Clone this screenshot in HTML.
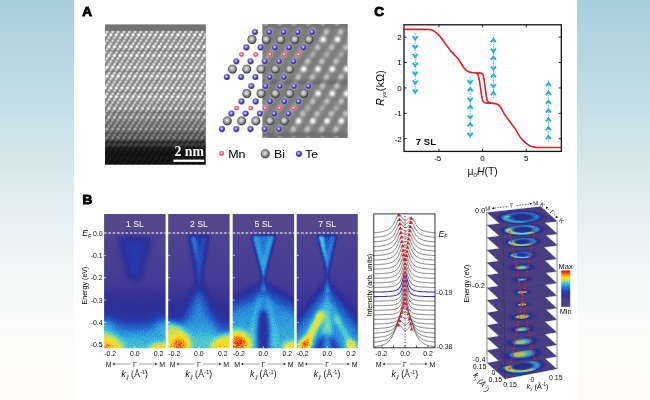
<!DOCTYPE html><html><head><meta charset="utf-8"><title>Figure</title>
<style>html,body{margin:0;padding:0;background:#fff}body{width:650px;height:400px;overflow:hidden}svg{display:block}text{font-family:"Liberation Sans",sans-serif}</style></head><body>
<svg width="650" height="400" viewBox="0 0 650 400">
<defs>
<linearGradient id="bg" x1="0" y1="0" x2="0" y2="1"><stop offset="0" stop-color="#a7cfdb"/><stop offset="0.25" stop-color="#c2dde5"/><stop offset="0.5" stop-color="#e1edf0"/><stop offset="0.65" stop-color="#eff5f5"/><stop offset="0.8" stop-color="#fafbfa"/><stop offset="1" stop-color="#fdfbf8"/></linearGradient>
<filter id="jetn" x="0" y="0" width="1" height="1" color-interpolation-filters="sRGB"><feTurbulence type="fractalNoise" baseFrequency="1.1" numOctaves="2" seed="4" result="n"/><feColorMatrix in="n" type="matrix" values="1 0 0 0 0 1 0 0 0 0 1 0 0 0 0 0 0 0 0 1" result="ng"/><feComposite in="SourceGraphic" in2="ng" operator="arithmetic" k1="0.26" k2="0.87" k3="0.03" k4="-0.015" result="s"/><feComponentTransfer in="s"><feFuncR type="table" tableValues="0.35 0.34 0.32 0.3 0.28 0.26 0.23 0.21 0.18 0.17 0.16 0.15 0.15 0.15 0.14 0.14 0.15 0.16 0.17 0.18 0.21 0.24 0.27 0.34 0.42 0.51 0.6 0.7 0.8 0.89 0.92 0.96 1 1 1 1 0.98 0.96 0.94 0.88 0.82"/><feFuncG type="table" tableValues="0.29 0.28 0.27 0.26 0.24 0.23 0.21 0.2 0.18 0.2 0.21 0.23 0.27 0.31 0.36 0.4 0.45 0.51 0.57 0.62 0.67 0.72 0.77 0.8 0.82 0.85 0.87 0.88 0.89 0.9 0.88 0.86 0.85 0.76 0.67 0.58 0.47 0.34 0.22 0.14 0.06"/><feFuncB type="table" tableValues="0.55 0.56 0.56 0.57 0.58 0.59 0.59 0.59 0.59 0.62 0.65 0.68 0.71 0.74 0.76 0.79 0.82 0.84 0.85 0.87 0.87 0.86 0.85 0.79 0.71 0.62 0.53 0.43 0.33 0.24 0.19 0.14 0.09 0.08 0.07 0.06 0.06 0.06 0.06 0.06 0.06"/></feComponentTransfer></filter>
<filter id="jet" x="0" y="0" width="1" height="1" color-interpolation-filters="sRGB"><feComponentTransfer><feFuncR type="table" tableValues="0.35 0.34 0.32 0.3 0.28 0.26 0.23 0.21 0.18 0.17 0.16 0.15 0.15 0.15 0.14 0.14 0.15 0.16 0.17 0.18 0.21 0.24 0.27 0.34 0.42 0.51 0.6 0.7 0.8 0.89 0.92 0.96 1 1 1 1 0.98 0.96 0.94 0.88 0.82"/><feFuncG type="table" tableValues="0.29 0.28 0.27 0.26 0.24 0.23 0.21 0.2 0.18 0.2 0.21 0.23 0.27 0.31 0.36 0.4 0.45 0.51 0.57 0.62 0.67 0.72 0.77 0.8 0.82 0.85 0.87 0.88 0.89 0.9 0.88 0.86 0.85 0.76 0.67 0.58 0.47 0.34 0.22 0.14 0.06"/><feFuncB type="table" tableValues="0.55 0.56 0.56 0.57 0.58 0.59 0.59 0.59 0.59 0.62 0.65 0.68 0.71 0.74 0.76 0.79 0.82 0.84 0.85 0.87 0.87 0.86 0.85 0.79 0.71 0.62 0.53 0.43 0.33 0.24 0.19 0.14 0.09 0.08 0.07 0.06 0.06 0.06 0.06 0.06 0.06"/></feComponentTransfer></filter>
<filter id="b05" x="-50%" y="-50%" width="200%" height="200%" color-interpolation-filters="sRGB"><feGaussianBlur stdDeviation="0.5"/></filter>
<filter id="b07" x="-50%" y="-50%" width="200%" height="200%" color-interpolation-filters="sRGB"><feGaussianBlur stdDeviation="0.7"/></filter>
<filter id="b1" x="-50%" y="-50%" width="200%" height="200%" color-interpolation-filters="sRGB"><feGaussianBlur stdDeviation="1"/></filter>
<filter id="b15" x="-50%" y="-50%" width="200%" height="200%" color-interpolation-filters="sRGB"><feGaussianBlur stdDeviation="1.5"/></filter>
<filter id="b2" x="-50%" y="-50%" width="200%" height="200%" color-interpolation-filters="sRGB"><feGaussianBlur stdDeviation="2"/></filter>
<filter id="b25" x="-50%" y="-50%" width="200%" height="200%" color-interpolation-filters="sRGB"><feGaussianBlur stdDeviation="2.5"/></filter>
<filter id="b3" x="-50%" y="-50%" width="200%" height="200%" color-interpolation-filters="sRGB"><feGaussianBlur stdDeviation="3"/></filter>
<filter id="b4" x="-50%" y="-50%" width="200%" height="200%" color-interpolation-filters="sRGB"><feGaussianBlur stdDeviation="4"/></filter>
<filter id="b5" x="-50%" y="-50%" width="200%" height="200%" color-interpolation-filters="sRGB"><feGaussianBlur stdDeviation="5"/></filter>
<filter id="b6" x="-50%" y="-50%" width="200%" height="200%" color-interpolation-filters="sRGB"><feGaussianBlur stdDeviation="6"/></filter>
<filter id="txu" filterUnits="userSpaceOnUse" x="460" y="355" width="50" height="45" color-interpolation-filters="sRGB"><feGaussianBlur stdDeviation="0.25"/></filter>
<filter id="nf" filterUnits="userSpaceOnUse" x="0" y="0" width="650" height="400" color-interpolation-filters="sRGB"><feOffset dx="0" dy="0"/></filter>
<filter id="tx0" x="-0.1" y="-0.1" width="1.2" height="1.2" color-interpolation-filters="sRGB"><feGaussianBlur stdDeviation="0.12"/></filter>
<filter id="tx" x="0" y="0" width="1" height="1" color-interpolation-filters="sRGB"><feGaussianBlur stdDeviation="0.25"/></filter>
<radialGradient id="gBi" cx="0.46" cy="0.44" r="0.56"><stop offset="0" stop-color="#e6e6e6"/><stop offset="0.35" stop-color="#bdbdbd"/><stop offset="0.65" stop-color="#858585"/><stop offset="0.88" stop-color="#444"/><stop offset="1" stop-color="#3a3a3a"/></radialGradient>
<radialGradient id="gTe" cx="0.45" cy="0.42" r="0.58"><stop offset="0" stop-color="#d8d2f6"/><stop offset="0.3" stop-color="#9c94e0"/><stop offset="0.6" stop-color="#4238b4"/><stop offset="0.9" stop-color="#241c84"/><stop offset="1" stop-color="#2a2288"/></radialGradient>
<radialGradient id="gMn" cx="0.47" cy="0.45" r="0.55"><stop offset="0" stop-color="#ffe6ec"/><stop offset="0.3" stop-color="#fbb0c0"/><stop offset="0.65" stop-color="#ea3c64"/><stop offset="1" stop-color="#dc2850"/></radialGradient>
<radialGradient id="blobB"><stop offset="0" stop-color="#fff" stop-opacity="1"/><stop offset="0.3" stop-color="#fff" stop-opacity="0.8"/><stop offset="0.65" stop-color="#fff" stop-opacity="0.25"/><stop offset="1" stop-color="#fff" stop-opacity="0"/></radialGradient>
<radialGradient id="blobD"><stop offset="0" stop-color="#fff" stop-opacity="0.5"/><stop offset="0.4" stop-color="#fff" stop-opacity="0.32"/><stop offset="1" stop-color="#fff" stop-opacity="0"/></radialGradient>
<radialGradient id="blobM"><stop offset="0" stop-color="#fff" stop-opacity="0.3"/><stop offset="1" stop-color="#fff" stop-opacity="0"/></radialGradient>
<pattern id="tem" x="105" y="30.0" width="5.6" height="61.8" patternUnits="userSpaceOnUse">
<rect width="5.6" height="61.8" fill="#898989"/>
<rect x="0" y="61" width="5.6" height="1.6" fill="#000" opacity="0.14"/>
<rect x="0" y="0" width="5.6" height="0.8" fill="#000" opacity="0.14"/>
<path d="M-2.65 0.37L-4.55 3.37" stroke="#fff" stroke-width="1.5" opacity="0.28"/>
<circle cx="-3.6" cy="1.87" r="1.25" fill="#fff" opacity="0.65"/>
<path d="M2.95 0.37L1.05 3.37" stroke="#fff" stroke-width="1.5" opacity="0.28"/>
<circle cx="2" cy="1.87" r="1.25" fill="#fff" opacity="0.65"/>
<path d="M8.55 0.37L6.65 3.37" stroke="#fff" stroke-width="1.5" opacity="0.28"/>
<circle cx="7.6" cy="1.87" r="1.25" fill="#fff" opacity="0.65"/>
<path d="M-4.52 3.31L-6.42 6.31" stroke="#fff" stroke-width="1.5" opacity="0.28"/>
<circle cx="-5.47" cy="4.81" r="1.55" fill="#fff" opacity="1"/>
<path d="M1.08 3.31L-0.82 6.31" stroke="#fff" stroke-width="1.5" opacity="0.28"/>
<circle cx="0.13" cy="4.81" r="1.55" fill="#fff" opacity="1"/>
<path d="M6.68 3.31L4.78 6.31" stroke="#fff" stroke-width="1.5" opacity="0.28"/>
<circle cx="5.73" cy="4.81" r="1.55" fill="#fff" opacity="1"/>
<path d="M-0.78 6.26L-2.68 9.26" stroke="#fff" stroke-width="1.5" opacity="0.28"/>
<circle cx="-1.73" cy="7.76" r="1.25" fill="#fff" opacity="0.69"/>
<path d="M4.82 6.26L2.92 9.26" stroke="#fff" stroke-width="1.5" opacity="0.28"/>
<circle cx="3.87" cy="7.76" r="1.25" fill="#fff" opacity="0.69"/>
<path d="M10.42 6.26L8.52 9.26" stroke="#fff" stroke-width="1.5" opacity="0.28"/>
<circle cx="9.47" cy="7.76" r="1.25" fill="#fff" opacity="0.69"/>
<path d="M-2.65 9.2L-4.55 12.2" stroke="#fff" stroke-width="1.5" opacity="0.28"/>
<circle cx="-3.6" cy="10.7" r="1.25" fill="#fff" opacity="0.57"/>
<path d="M2.95 9.2L1.05 12.2" stroke="#fff" stroke-width="1.5" opacity="0.28"/>
<circle cx="2" cy="10.7" r="1.25" fill="#fff" opacity="0.57"/>
<path d="M8.55 9.2L6.65 12.2" stroke="#fff" stroke-width="1.5" opacity="0.28"/>
<circle cx="7.6" cy="10.7" r="1.25" fill="#fff" opacity="0.57"/>
<path d="M-4.52 12.14L-6.42 15.14" stroke="#fff" stroke-width="1.5" opacity="0.28"/>
<circle cx="-5.47" cy="13.64" r="1.25" fill="#fff" opacity="0.69"/>
<path d="M1.08 12.14L-0.82 15.14" stroke="#fff" stroke-width="1.5" opacity="0.28"/>
<circle cx="0.13" cy="13.64" r="1.25" fill="#fff" opacity="0.69"/>
<path d="M6.68 12.14L4.78 15.14" stroke="#fff" stroke-width="1.5" opacity="0.28"/>
<circle cx="5.73" cy="13.64" r="1.25" fill="#fff" opacity="0.69"/>
<path d="M-0.78 15.09L-2.68 18.09" stroke="#fff" stroke-width="1.5" opacity="0.28"/>
<circle cx="-1.73" cy="16.59" r="1.55" fill="#fff" opacity="1"/>
<path d="M4.82 15.09L2.92 18.09" stroke="#fff" stroke-width="1.5" opacity="0.28"/>
<circle cx="3.87" cy="16.59" r="1.55" fill="#fff" opacity="1"/>
<path d="M10.42 15.09L8.52 18.09" stroke="#fff" stroke-width="1.5" opacity="0.28"/>
<circle cx="9.47" cy="16.59" r="1.55" fill="#fff" opacity="1"/>
<path d="M-2.65 18.03L-4.55 21.03" stroke="#fff" stroke-width="1.5" opacity="0.28"/>
<circle cx="-3.6" cy="19.53" r="1.25" fill="#fff" opacity="0.65"/>
<path d="M2.95 18.03L1.05 21.03" stroke="#fff" stroke-width="1.5" opacity="0.28"/>
<circle cx="2" cy="19.53" r="1.25" fill="#fff" opacity="0.65"/>
<path d="M8.55 18.03L6.65 21.03" stroke="#fff" stroke-width="1.5" opacity="0.28"/>
<circle cx="7.6" cy="19.53" r="1.25" fill="#fff" opacity="0.65"/>
<rect x="0" y="19.8" width="5.6" height="1.6" fill="#000" opacity="0.14"/>
<path d="M-4.52 20.97L-6.42 23.97" stroke="#fff" stroke-width="1.5" opacity="0.28"/>
<circle cx="-5.47" cy="22.47" r="1.25" fill="#fff" opacity="0.65"/>
<path d="M1.08 20.97L-0.82 23.97" stroke="#fff" stroke-width="1.5" opacity="0.28"/>
<circle cx="0.13" cy="22.47" r="1.25" fill="#fff" opacity="0.65"/>
<path d="M6.68 20.97L4.78 23.97" stroke="#fff" stroke-width="1.5" opacity="0.28"/>
<circle cx="5.73" cy="22.47" r="1.25" fill="#fff" opacity="0.65"/>
<path d="M-0.78 23.91L-2.68 26.91" stroke="#fff" stroke-width="1.5" opacity="0.28"/>
<circle cx="-1.73" cy="25.41" r="1.55" fill="#fff" opacity="1"/>
<path d="M4.82 23.91L2.92 26.91" stroke="#fff" stroke-width="1.5" opacity="0.28"/>
<circle cx="3.87" cy="25.41" r="1.55" fill="#fff" opacity="1"/>
<path d="M10.42 23.91L8.52 26.91" stroke="#fff" stroke-width="1.5" opacity="0.28"/>
<circle cx="9.47" cy="25.41" r="1.55" fill="#fff" opacity="1"/>
<path d="M-2.65 26.86L-4.55 29.86" stroke="#fff" stroke-width="1.5" opacity="0.28"/>
<circle cx="-3.6" cy="28.36" r="1.25" fill="#fff" opacity="0.69"/>
<path d="M2.95 26.86L1.05 29.86" stroke="#fff" stroke-width="1.5" opacity="0.28"/>
<circle cx="2" cy="28.36" r="1.25" fill="#fff" opacity="0.69"/>
<path d="M8.55 26.86L6.65 29.86" stroke="#fff" stroke-width="1.5" opacity="0.28"/>
<circle cx="7.6" cy="28.36" r="1.25" fill="#fff" opacity="0.69"/>
<path d="M-4.52 29.8L-6.42 32.8" stroke="#fff" stroke-width="1.5" opacity="0.28"/>
<circle cx="-5.47" cy="31.3" r="1.25" fill="#fff" opacity="0.57"/>
<path d="M1.08 29.8L-0.82 32.8" stroke="#fff" stroke-width="1.5" opacity="0.28"/>
<circle cx="0.13" cy="31.3" r="1.25" fill="#fff" opacity="0.57"/>
<path d="M6.68 29.8L4.78 32.8" stroke="#fff" stroke-width="1.5" opacity="0.28"/>
<circle cx="5.73" cy="31.3" r="1.25" fill="#fff" opacity="0.57"/>
<path d="M-0.78 32.74L-2.68 35.74" stroke="#fff" stroke-width="1.5" opacity="0.28"/>
<circle cx="-1.73" cy="34.24" r="1.25" fill="#fff" opacity="0.69"/>
<path d="M4.82 32.74L2.92 35.74" stroke="#fff" stroke-width="1.5" opacity="0.28"/>
<circle cx="3.87" cy="34.24" r="1.25" fill="#fff" opacity="0.69"/>
<path d="M10.42 32.74L8.52 35.74" stroke="#fff" stroke-width="1.5" opacity="0.28"/>
<circle cx="9.47" cy="34.24" r="1.25" fill="#fff" opacity="0.69"/>
<path d="M-2.65 35.69L-4.55 38.69" stroke="#fff" stroke-width="1.5" opacity="0.28"/>
<circle cx="-3.6" cy="37.19" r="1.55" fill="#fff" opacity="1"/>
<path d="M2.95 35.69L1.05 38.69" stroke="#fff" stroke-width="1.5" opacity="0.28"/>
<circle cx="2" cy="37.19" r="1.55" fill="#fff" opacity="1"/>
<path d="M8.55 35.69L6.65 38.69" stroke="#fff" stroke-width="1.5" opacity="0.28"/>
<circle cx="7.6" cy="37.19" r="1.55" fill="#fff" opacity="1"/>
<path d="M-4.52 38.63L-6.42 41.63" stroke="#fff" stroke-width="1.5" opacity="0.28"/>
<circle cx="-5.47" cy="40.13" r="1.25" fill="#fff" opacity="0.65"/>
<path d="M1.08 38.63L-0.82 41.63" stroke="#fff" stroke-width="1.5" opacity="0.28"/>
<circle cx="0.13" cy="40.13" r="1.25" fill="#fff" opacity="0.65"/>
<path d="M6.68 38.63L4.78 41.63" stroke="#fff" stroke-width="1.5" opacity="0.28"/>
<circle cx="5.73" cy="40.13" r="1.25" fill="#fff" opacity="0.65"/>
<rect x="0" y="40.4" width="5.6" height="1.6" fill="#000" opacity="0.14"/>
<path d="M-0.78 41.57L-2.68 44.57" stroke="#fff" stroke-width="1.5" opacity="0.28"/>
<circle cx="-1.73" cy="43.07" r="1.25" fill="#fff" opacity="0.65"/>
<path d="M4.82 41.57L2.92 44.57" stroke="#fff" stroke-width="1.5" opacity="0.28"/>
<circle cx="3.87" cy="43.07" r="1.25" fill="#fff" opacity="0.65"/>
<path d="M10.42 41.57L8.52 44.57" stroke="#fff" stroke-width="1.5" opacity="0.28"/>
<circle cx="9.47" cy="43.07" r="1.25" fill="#fff" opacity="0.65"/>
<path d="M-2.65 44.51L-4.55 47.51" stroke="#fff" stroke-width="1.5" opacity="0.28"/>
<circle cx="-3.6" cy="46.01" r="1.55" fill="#fff" opacity="1"/>
<path d="M2.95 44.51L1.05 47.51" stroke="#fff" stroke-width="1.5" opacity="0.28"/>
<circle cx="2" cy="46.01" r="1.55" fill="#fff" opacity="1"/>
<path d="M8.55 44.51L6.65 47.51" stroke="#fff" stroke-width="1.5" opacity="0.28"/>
<circle cx="7.6" cy="46.01" r="1.55" fill="#fff" opacity="1"/>
<path d="M-4.52 47.46L-6.42 50.46" stroke="#fff" stroke-width="1.5" opacity="0.28"/>
<circle cx="-5.47" cy="48.96" r="1.25" fill="#fff" opacity="0.69"/>
<path d="M1.08 47.46L-0.82 50.46" stroke="#fff" stroke-width="1.5" opacity="0.28"/>
<circle cx="0.13" cy="48.96" r="1.25" fill="#fff" opacity="0.69"/>
<path d="M6.68 47.46L4.78 50.46" stroke="#fff" stroke-width="1.5" opacity="0.28"/>
<circle cx="5.73" cy="48.96" r="1.25" fill="#fff" opacity="0.69"/>
<path d="M-0.78 50.4L-2.68 53.4" stroke="#fff" stroke-width="1.5" opacity="0.28"/>
<circle cx="-1.73" cy="51.9" r="1.25" fill="#fff" opacity="0.57"/>
<path d="M4.82 50.4L2.92 53.4" stroke="#fff" stroke-width="1.5" opacity="0.28"/>
<circle cx="3.87" cy="51.9" r="1.25" fill="#fff" opacity="0.57"/>
<path d="M10.42 50.4L8.52 53.4" stroke="#fff" stroke-width="1.5" opacity="0.28"/>
<circle cx="9.47" cy="51.9" r="1.25" fill="#fff" opacity="0.57"/>
<path d="M-2.65 53.34L-4.55 56.34" stroke="#fff" stroke-width="1.5" opacity="0.28"/>
<circle cx="-3.6" cy="54.84" r="1.25" fill="#fff" opacity="0.69"/>
<path d="M2.95 53.34L1.05 56.34" stroke="#fff" stroke-width="1.5" opacity="0.28"/>
<circle cx="2" cy="54.84" r="1.25" fill="#fff" opacity="0.69"/>
<path d="M8.55 53.34L6.65 56.34" stroke="#fff" stroke-width="1.5" opacity="0.28"/>
<circle cx="7.6" cy="54.84" r="1.25" fill="#fff" opacity="0.69"/>
<path d="M-4.52 56.29L-6.42 59.29" stroke="#fff" stroke-width="1.5" opacity="0.28"/>
<circle cx="-5.47" cy="57.79" r="1.55" fill="#fff" opacity="1"/>
<path d="M1.08 56.29L-0.82 59.29" stroke="#fff" stroke-width="1.5" opacity="0.28"/>
<circle cx="0.13" cy="57.79" r="1.55" fill="#fff" opacity="1"/>
<path d="M6.68 56.29L4.78 59.29" stroke="#fff" stroke-width="1.5" opacity="0.28"/>
<circle cx="5.73" cy="57.79" r="1.55" fill="#fff" opacity="1"/>
<path d="M-0.78 59.23L-2.68 62.23" stroke="#fff" stroke-width="1.5" opacity="0.28"/>
<circle cx="-1.73" cy="60.73" r="1.25" fill="#fff" opacity="0.65"/>
<path d="M4.82 59.23L2.92 62.23" stroke="#fff" stroke-width="1.5" opacity="0.28"/>
<circle cx="3.87" cy="60.73" r="1.25" fill="#fff" opacity="0.65"/>
<path d="M10.42 59.23L8.52 62.23" stroke="#fff" stroke-width="1.5" opacity="0.28"/>
<circle cx="9.47" cy="60.73" r="1.25" fill="#fff" opacity="0.65"/>
</pattern>
<linearGradient id="temShade" gradientUnits="userSpaceOnUse" x1="0" y1="24.5" x2="0" y2="164.5">
<stop offset="0" stop-color="#000" stop-opacity="0"/>
<stop offset="0.54" stop-color="#000" stop-opacity="0"/>
<stop offset="0.62" stop-color="#000" stop-opacity="0.12"/>
<stop offset="0.71" stop-color="#000" stop-opacity="0.25"/>
<stop offset="0.78" stop-color="#000" stop-opacity="0.38"/>
<stop offset="0.82" stop-color="#000" stop-opacity="0.5"/>
<stop offset="0.84" stop-color="#000" stop-opacity="0.74"/>
<stop offset="0.86" stop-color="#000" stop-opacity="0.62"/>
<stop offset="0.88" stop-color="#000" stop-opacity="0.85"/>
<stop offset="0.9" stop-color="#000" stop-opacity="0.88"/>
<stop offset="1" stop-color="#000" stop-opacity="0.89"/>
</linearGradient>
</defs>
<rect width="650" height="400" fill="url(#bg)"/>
<rect x="74" y="0" width="503" height="400" fill="#fff"/>
<g filter="url(#nf)">
<text x="82.2" y="16.3" font-size="13.2" font-weight="700" fill="#000" stroke="#000" stroke-width="0.9" textLength="9.8" lengthAdjust="spacingAndGlyphs" filter="url(#tx)">A</text>
<text x="82.4" y="204.3" font-size="13.2" font-weight="700" fill="#000" stroke="#000" stroke-width="0.9" textLength="9.8" lengthAdjust="spacingAndGlyphs" filter="url(#tx)">B</text>
<text x="374.3" y="16" font-size="13.2" font-weight="700" fill="#000" stroke="#000" stroke-width="0.9" textLength="9.8" lengthAdjust="spacingAndGlyphs" filter="url(#tx)">C</text>
<g id="A">
<rect x="105" y="24.6" width="100.6" height="140" fill="#7c7c7c"/>
<rect x="105" y="30" width="100.6" height="134.6" fill="url(#tem)" filter="url(#b07)"/>
<rect x="105" y="24.6" width="100.6" height="6.0" fill="#737373"/>
<rect x="105" y="24.6" width="100.6" height="140" fill="url(#temShade)"/>
<rect x="173.4" y="159.6" width="30.8" height="2.3" fill="#fff"/>
<text x="189.2" y="156.4" font-size="13.8" font-weight="700" fill="#fff" text-anchor="middle" style="font-family:'Liberation Serif',serif" filter="url(#tx)">2 nm</text>
<clipPath id="cpG"><rect x="262.2" y="24" width="85.6" height="114"/></clipPath>
<g clip-path="url(#cpG)">
<rect x="262.2" y="24" width="85.6" height="114" fill="#7d7d7d"/>
<rect x="260.2" y="80" width="90" height="4" fill="#000" opacity="0.16" filter="url(#b15)"/>
<rect x="260.2" y="25" width="90" height="3" fill="#000" opacity="0.10" filter="url(#b15)"/>
<rect x="260.2" y="132.5" width="90" height="4" fill="#000" opacity="0.14" filter="url(#b15)"/>
<path d="M228 29.5L196.9 79.5" stroke="#fff" stroke-width="5" opacity="0.2" stroke-linecap="round" filter="url(#b15)"/>
<path d="M242.25 29.5L211.15 79.5" stroke="#fff" stroke-width="5" opacity="0.2" stroke-linecap="round" filter="url(#b15)"/>
<path d="M256.5 29.5L225.4 79.5" stroke="#fff" stroke-width="5" opacity="0.2" stroke-linecap="round" filter="url(#b15)"/>
<path d="M270.75 29.5L239.65 79.5" stroke="#fff" stroke-width="5" opacity="0.2" stroke-linecap="round" filter="url(#b15)"/>
<path d="M285 29.5L253.9 79.5" stroke="#fff" stroke-width="5" opacity="0.2" stroke-linecap="round" filter="url(#b15)"/>
<path d="M299.25 29.5L268.15 79.5" stroke="#fff" stroke-width="5" opacity="0.2" stroke-linecap="round" filter="url(#b15)"/>
<path d="M313.5 29.5L282.4 79.5" stroke="#fff" stroke-width="5" opacity="0.2" stroke-linecap="round" filter="url(#b15)"/>
<path d="M327.75 29.5L296.65 79.5" stroke="#fff" stroke-width="5" opacity="0.2" stroke-linecap="round" filter="url(#b15)"/>
<path d="M342 29.5L310.9 79.5" stroke="#fff" stroke-width="5" opacity="0.2" stroke-linecap="round" filter="url(#b15)"/>
<path d="M356.25 29.5L325.15 79.5" stroke="#fff" stroke-width="5" opacity="0.2" stroke-linecap="round" filter="url(#b15)"/>
<path d="M370.5 29.5L339.4 79.5" stroke="#fff" stroke-width="5" opacity="0.2" stroke-linecap="round" filter="url(#b15)"/>
<path d="M384.75 29.5L353.65 79.5" stroke="#fff" stroke-width="5" opacity="0.2" stroke-linecap="round" filter="url(#b15)"/>
<path d="M224.3 83.5L192 131.6" stroke="#fff" stroke-width="5" opacity="0.2" stroke-linecap="round" filter="url(#b15)"/>
<path d="M238.55 83.5L206.25 131.6" stroke="#fff" stroke-width="5" opacity="0.2" stroke-linecap="round" filter="url(#b15)"/>
<path d="M252.8 83.5L220.5 131.6" stroke="#fff" stroke-width="5" opacity="0.2" stroke-linecap="round" filter="url(#b15)"/>
<path d="M267.05 83.5L234.75 131.6" stroke="#fff" stroke-width="5" opacity="0.2" stroke-linecap="round" filter="url(#b15)"/>
<path d="M281.3 83.5L249 131.6" stroke="#fff" stroke-width="5" opacity="0.2" stroke-linecap="round" filter="url(#b15)"/>
<path d="M295.55 83.5L263.25 131.6" stroke="#fff" stroke-width="5" opacity="0.2" stroke-linecap="round" filter="url(#b15)"/>
<path d="M309.8 83.5L277.5 131.6" stroke="#fff" stroke-width="5" opacity="0.2" stroke-linecap="round" filter="url(#b15)"/>
<path d="M324.05 83.5L291.75 131.6" stroke="#fff" stroke-width="5" opacity="0.2" stroke-linecap="round" filter="url(#b15)"/>
<path d="M338.3 83.5L306 131.6" stroke="#fff" stroke-width="5" opacity="0.2" stroke-linecap="round" filter="url(#b15)"/>
<path d="M352.55 83.5L320.25 131.6" stroke="#fff" stroke-width="5" opacity="0.2" stroke-linecap="round" filter="url(#b15)"/>
<path d="M366.8 83.5L334.5 131.6" stroke="#fff" stroke-width="5" opacity="0.2" stroke-linecap="round" filter="url(#b15)"/>
<path d="M381.05 83.5L348.75 131.6" stroke="#fff" stroke-width="5" opacity="0.2" stroke-linecap="round" filter="url(#b15)"/>
<circle cx="265.55" cy="23" r="4.0" fill="url(#blobD)"/>
<circle cx="279.8" cy="23" r="4.0" fill="url(#blobD)"/>
<circle cx="294.05" cy="23" r="4.0" fill="url(#blobD)"/>
<circle cx="308.3" cy="23" r="4.0" fill="url(#blobD)"/>
<circle cx="322.55" cy="23" r="4.0" fill="url(#blobD)"/>
<circle cx="336.8" cy="23" r="4.0" fill="url(#blobD)"/>
<circle cx="351.05" cy="23" r="4.0" fill="url(#blobD)"/>
<circle cx="265.25" cy="139.5" r="4.0" fill="url(#blobD)"/>
<circle cx="279.5" cy="139.5" r="4.0" fill="url(#blobD)"/>
<circle cx="293.75" cy="139.5" r="4.0" fill="url(#blobD)"/>
<circle cx="308" cy="139.5" r="4.0" fill="url(#blobD)"/>
<circle cx="322.25" cy="139.5" r="4.0" fill="url(#blobD)"/>
<circle cx="336.5" cy="139.5" r="4.0" fill="url(#blobD)"/>
<circle cx="350.75" cy="139.5" r="4.0" fill="url(#blobD)"/>
<circle cx="262.25" cy="147" r="4.9" fill="url(#blobB)"/>
<circle cx="276.5" cy="147" r="4.9" fill="url(#blobB)"/>
<circle cx="290.75" cy="147" r="4.9" fill="url(#blobB)"/>
<circle cx="305" cy="147" r="4.9" fill="url(#blobB)"/>
<circle cx="319.25" cy="147" r="4.9" fill="url(#blobB)"/>
<circle cx="333.5" cy="147" r="4.9" fill="url(#blobB)"/>
<circle cx="347.75" cy="147" r="4.9" fill="url(#blobB)"/>
<circle cx="255" cy="32" r="4.0" fill="url(#blobD)"/>
<circle cx="269.25" cy="32" r="4.0" fill="url(#blobD)"/>
<circle cx="283.5" cy="32" r="4.0" fill="url(#blobD)"/>
<circle cx="297.75" cy="32" r="4.0" fill="url(#blobD)"/>
<circle cx="312" cy="32" r="4.0" fill="url(#blobD)"/>
<circle cx="326.25" cy="32" r="4.0" fill="url(#blobD)"/>
<circle cx="340.5" cy="32" r="4.0" fill="url(#blobD)"/>
<circle cx="354.75" cy="32" r="4.0" fill="url(#blobD)"/>
<circle cx="266.25" cy="39.5" r="4.9" fill="url(#blobB)"/>
<circle cx="280.5" cy="39.5" r="4.9" fill="url(#blobB)"/>
<circle cx="294.75" cy="39.5" r="4.9" fill="url(#blobB)"/>
<circle cx="309" cy="39.5" r="4.9" fill="url(#blobB)"/>
<circle cx="323.25" cy="39.5" r="4.9" fill="url(#blobB)"/>
<circle cx="337.5" cy="39.5" r="4.9" fill="url(#blobB)"/>
<circle cx="351.75" cy="39.5" r="4.9" fill="url(#blobB)"/>
<circle cx="260.65" cy="47.4" r="4.0" fill="url(#blobD)"/>
<circle cx="274.9" cy="47.4" r="4.0" fill="url(#blobD)"/>
<circle cx="289.15" cy="47.4" r="4.0" fill="url(#blobD)"/>
<circle cx="303.4" cy="47.4" r="4.0" fill="url(#blobD)"/>
<circle cx="317.65" cy="47.4" r="4.0" fill="url(#blobD)"/>
<circle cx="331.9" cy="47.4" r="4.0" fill="url(#blobD)"/>
<circle cx="346.15" cy="47.4" r="4.0" fill="url(#blobD)"/>
<circle cx="255.75" cy="54.5" r="3.6" fill="url(#blobM)"/>
<circle cx="270" cy="54.5" r="3.6" fill="url(#blobM)"/>
<circle cx="284.25" cy="54.5" r="3.6" fill="url(#blobM)"/>
<circle cx="298.5" cy="54.5" r="3.6" fill="url(#blobM)"/>
<circle cx="312.75" cy="54.5" r="3.6" fill="url(#blobM)"/>
<circle cx="327" cy="54.5" r="3.6" fill="url(#blobM)"/>
<circle cx="341.25" cy="54.5" r="3.6" fill="url(#blobM)"/>
<circle cx="355.5" cy="54.5" r="3.6" fill="url(#blobM)"/>
<circle cx="264.8" cy="61.3" r="4.0" fill="url(#blobD)"/>
<circle cx="279.05" cy="61.3" r="4.0" fill="url(#blobD)"/>
<circle cx="293.3" cy="61.3" r="4.0" fill="url(#blobD)"/>
<circle cx="307.55" cy="61.3" r="4.0" fill="url(#blobD)"/>
<circle cx="321.8" cy="61.3" r="4.0" fill="url(#blobD)"/>
<circle cx="336.05" cy="61.3" r="4.0" fill="url(#blobD)"/>
<circle cx="350.3" cy="61.3" r="4.0" fill="url(#blobD)"/>
<circle cx="261" cy="69.1" r="4.9" fill="url(#blobB)"/>
<circle cx="275.25" cy="69.1" r="4.9" fill="url(#blobB)"/>
<circle cx="289.5" cy="69.1" r="4.9" fill="url(#blobB)"/>
<circle cx="303.75" cy="69.1" r="4.9" fill="url(#blobB)"/>
<circle cx="318" cy="69.1" r="4.9" fill="url(#blobB)"/>
<circle cx="332.25" cy="69.1" r="4.9" fill="url(#blobB)"/>
<circle cx="346.5" cy="69.1" r="4.9" fill="url(#blobB)"/>
<circle cx="255.4" cy="77" r="4.0" fill="url(#blobD)"/>
<circle cx="269.65" cy="77" r="4.0" fill="url(#blobD)"/>
<circle cx="283.9" cy="77" r="4.0" fill="url(#blobD)"/>
<circle cx="298.15" cy="77" r="4.0" fill="url(#blobD)"/>
<circle cx="312.4" cy="77" r="4.0" fill="url(#blobD)"/>
<circle cx="326.65" cy="77" r="4.0" fill="url(#blobD)"/>
<circle cx="340.9" cy="77" r="4.0" fill="url(#blobD)"/>
<circle cx="355.15" cy="77" r="4.0" fill="url(#blobD)"/>
<circle cx="265.55" cy="86" r="4.0" fill="url(#blobD)"/>
<circle cx="279.8" cy="86" r="4.0" fill="url(#blobD)"/>
<circle cx="294.05" cy="86" r="4.0" fill="url(#blobD)"/>
<circle cx="308.3" cy="86" r="4.0" fill="url(#blobD)"/>
<circle cx="322.55" cy="86" r="4.0" fill="url(#blobD)"/>
<circle cx="336.8" cy="86" r="4.0" fill="url(#blobD)"/>
<circle cx="351.05" cy="86" r="4.0" fill="url(#blobD)"/>
<circle cx="261.05" cy="93.5" r="4.9" fill="url(#blobB)"/>
<circle cx="275.3" cy="93.5" r="4.9" fill="url(#blobB)"/>
<circle cx="289.55" cy="93.5" r="4.9" fill="url(#blobB)"/>
<circle cx="303.8" cy="93.5" r="4.9" fill="url(#blobB)"/>
<circle cx="318.05" cy="93.5" r="4.9" fill="url(#blobB)"/>
<circle cx="332.3" cy="93.5" r="4.9" fill="url(#blobB)"/>
<circle cx="346.55" cy="93.5" r="4.9" fill="url(#blobB)"/>
<circle cx="255.75" cy="101.4" r="4.0" fill="url(#blobD)"/>
<circle cx="270" cy="101.4" r="4.0" fill="url(#blobD)"/>
<circle cx="284.25" cy="101.4" r="4.0" fill="url(#blobD)"/>
<circle cx="298.5" cy="101.4" r="4.0" fill="url(#blobD)"/>
<circle cx="312.75" cy="101.4" r="4.0" fill="url(#blobD)"/>
<circle cx="327" cy="101.4" r="4.0" fill="url(#blobD)"/>
<circle cx="341.25" cy="101.4" r="4.0" fill="url(#blobD)"/>
<circle cx="355.5" cy="101.4" r="4.0" fill="url(#blobD)"/>
<circle cx="265.1" cy="108.1" r="3.6" fill="url(#blobM)"/>
<circle cx="279.35" cy="108.1" r="3.6" fill="url(#blobM)"/>
<circle cx="293.6" cy="108.1" r="3.6" fill="url(#blobM)"/>
<circle cx="307.85" cy="108.1" r="3.6" fill="url(#blobM)"/>
<circle cx="322.1" cy="108.1" r="3.6" fill="url(#blobM)"/>
<circle cx="336.35" cy="108.1" r="3.6" fill="url(#blobM)"/>
<circle cx="350.6" cy="108.1" r="3.6" fill="url(#blobM)"/>
<circle cx="259.9" cy="113.6" r="4.0" fill="url(#blobD)"/>
<circle cx="274.15" cy="113.6" r="4.0" fill="url(#blobD)"/>
<circle cx="288.4" cy="113.6" r="4.0" fill="url(#blobD)"/>
<circle cx="302.65" cy="113.6" r="4.0" fill="url(#blobD)"/>
<circle cx="316.9" cy="113.6" r="4.0" fill="url(#blobD)"/>
<circle cx="331.15" cy="113.6" r="4.0" fill="url(#blobD)"/>
<circle cx="345.4" cy="113.6" r="4.0" fill="url(#blobD)"/>
<circle cx="255.8" cy="120.9" r="4.9" fill="url(#blobB)"/>
<circle cx="270.05" cy="120.9" r="4.9" fill="url(#blobB)"/>
<circle cx="284.3" cy="120.9" r="4.9" fill="url(#blobB)"/>
<circle cx="298.55" cy="120.9" r="4.9" fill="url(#blobB)"/>
<circle cx="312.8" cy="120.9" r="4.9" fill="url(#blobB)"/>
<circle cx="327.05" cy="120.9" r="4.9" fill="url(#blobB)"/>
<circle cx="341.3" cy="120.9" r="4.9" fill="url(#blobB)"/>
<circle cx="355.55" cy="120.9" r="4.9" fill="url(#blobB)"/>
<circle cx="264.75" cy="129.1" r="4.0" fill="url(#blobD)"/>
<circle cx="279" cy="129.1" r="4.0" fill="url(#blobD)"/>
<circle cx="293.25" cy="129.1" r="4.0" fill="url(#blobD)"/>
<circle cx="307.5" cy="129.1" r="4.0" fill="url(#blobD)"/>
<circle cx="321.75" cy="129.1" r="4.0" fill="url(#blobD)"/>
<circle cx="336" cy="129.1" r="4.0" fill="url(#blobD)"/>
<circle cx="350.25" cy="129.1" r="4.0" fill="url(#blobD)"/>
</g>
<circle cx="255" cy="32" r="3.1" fill="url(#gTe)" stroke="#d0d0e4" stroke-width="0.5" stroke-opacity="0.8"/>
<circle cx="269.25" cy="32" r="3.1" fill="url(#gTe)" stroke="#d0d0e4" stroke-width="0.5" stroke-opacity="0.8"/>
<circle cx="283.5" cy="32" r="3.1" fill="url(#gTe)" stroke="#d0d0e4" stroke-width="0.5" stroke-opacity="0.8"/>
<circle cx="297.75" cy="32" r="3.1" fill="url(#gTe)" stroke="#d0d0e4" stroke-width="0.5" stroke-opacity="0.8"/>
<circle cx="312" cy="32" r="3.1" fill="url(#gTe)" stroke="#d0d0e4" stroke-width="0.5" stroke-opacity="0.8"/>
<circle cx="252" cy="39.5" r="4.45" fill="url(#gBi)" stroke="#555" stroke-width="0.4" stroke-opacity="0.6"/>
<circle cx="266.25" cy="39.5" r="4.45" fill="url(#gBi)" stroke="#555" stroke-width="0.4" stroke-opacity="0.6"/>
<circle cx="280.5" cy="39.5" r="4.45" fill="url(#gBi)" stroke="#555" stroke-width="0.4" stroke-opacity="0.6"/>
<circle cx="294.75" cy="39.5" r="4.45" fill="url(#gBi)" stroke="#555" stroke-width="0.4" stroke-opacity="0.6"/>
<circle cx="309" cy="39.5" r="4.45" fill="url(#gBi)" stroke="#555" stroke-width="0.4" stroke-opacity="0.6"/>
<circle cx="246.4" cy="47.4" r="3.1" fill="url(#gTe)" stroke="#d0d0e4" stroke-width="0.5" stroke-opacity="0.8"/>
<circle cx="260.65" cy="47.4" r="3.1" fill="url(#gTe)" stroke="#d0d0e4" stroke-width="0.5" stroke-opacity="0.8"/>
<circle cx="274.9" cy="47.4" r="3.1" fill="url(#gTe)" stroke="#d0d0e4" stroke-width="0.5" stroke-opacity="0.8"/>
<circle cx="289.15" cy="47.4" r="3.1" fill="url(#gTe)" stroke="#d0d0e4" stroke-width="0.5" stroke-opacity="0.8"/>
<circle cx="303.4" cy="47.4" r="3.1" fill="url(#gTe)" stroke="#d0d0e4" stroke-width="0.5" stroke-opacity="0.8"/>
<circle cx="241.5" cy="54.5" r="2.45" fill="url(#gMn)" stroke="#f0c8d2" stroke-width="0.4" stroke-opacity="0.8"/>
<circle cx="255.75" cy="54.5" r="2.45" fill="url(#gMn)" stroke="#f0c8d2" stroke-width="0.4" stroke-opacity="0.8"/>
<circle cx="270" cy="54.5" r="2.45" fill="url(#gMn)" stroke="#f0c8d2" stroke-width="0.4" stroke-opacity="0.8"/>
<circle cx="284.25" cy="54.5" r="2.45" fill="url(#gMn)" stroke="#f0c8d2" stroke-width="0.4" stroke-opacity="0.8"/>
<circle cx="298.5" cy="54.5" r="2.45" fill="url(#gMn)" stroke="#f0c8d2" stroke-width="0.4" stroke-opacity="0.8"/>
<circle cx="236.3" cy="61.3" r="3.1" fill="url(#gTe)" stroke="#d0d0e4" stroke-width="0.5" stroke-opacity="0.8"/>
<circle cx="250.55" cy="61.3" r="3.1" fill="url(#gTe)" stroke="#d0d0e4" stroke-width="0.5" stroke-opacity="0.8"/>
<circle cx="264.8" cy="61.3" r="3.1" fill="url(#gTe)" stroke="#d0d0e4" stroke-width="0.5" stroke-opacity="0.8"/>
<circle cx="279.05" cy="61.3" r="3.1" fill="url(#gTe)" stroke="#d0d0e4" stroke-width="0.5" stroke-opacity="0.8"/>
<circle cx="293.3" cy="61.3" r="3.1" fill="url(#gTe)" stroke="#d0d0e4" stroke-width="0.5" stroke-opacity="0.8"/>
<circle cx="232.5" cy="69.1" r="4.45" fill="url(#gBi)" stroke="#555" stroke-width="0.4" stroke-opacity="0.6"/>
<circle cx="246.75" cy="69.1" r="4.45" fill="url(#gBi)" stroke="#555" stroke-width="0.4" stroke-opacity="0.6"/>
<circle cx="261" cy="69.1" r="4.45" fill="url(#gBi)" stroke="#555" stroke-width="0.4" stroke-opacity="0.6"/>
<circle cx="275.25" cy="69.1" r="4.45" fill="url(#gBi)" stroke="#555" stroke-width="0.4" stroke-opacity="0.6"/>
<circle cx="289.5" cy="69.1" r="4.45" fill="url(#gBi)" stroke="#555" stroke-width="0.4" stroke-opacity="0.6"/>
<circle cx="226.9" cy="77" r="3.1" fill="url(#gTe)" stroke="#d0d0e4" stroke-width="0.5" stroke-opacity="0.8"/>
<circle cx="241.15" cy="77" r="3.1" fill="url(#gTe)" stroke="#d0d0e4" stroke-width="0.5" stroke-opacity="0.8"/>
<circle cx="255.4" cy="77" r="3.1" fill="url(#gTe)" stroke="#d0d0e4" stroke-width="0.5" stroke-opacity="0.8"/>
<circle cx="269.65" cy="77" r="3.1" fill="url(#gTe)" stroke="#d0d0e4" stroke-width="0.5" stroke-opacity="0.8"/>
<circle cx="283.9" cy="77" r="3.1" fill="url(#gTe)" stroke="#d0d0e4" stroke-width="0.5" stroke-opacity="0.8"/>
<circle cx="251.3" cy="86" r="3.1" fill="url(#gTe)" stroke="#d0d0e4" stroke-width="0.5" stroke-opacity="0.8"/>
<circle cx="265.55" cy="86" r="3.1" fill="url(#gTe)" stroke="#d0d0e4" stroke-width="0.5" stroke-opacity="0.8"/>
<circle cx="279.8" cy="86" r="3.1" fill="url(#gTe)" stroke="#d0d0e4" stroke-width="0.5" stroke-opacity="0.8"/>
<circle cx="294.05" cy="86" r="3.1" fill="url(#gTe)" stroke="#d0d0e4" stroke-width="0.5" stroke-opacity="0.8"/>
<circle cx="308.3" cy="86" r="3.1" fill="url(#gTe)" stroke="#d0d0e4" stroke-width="0.5" stroke-opacity="0.8"/>
<circle cx="246.8" cy="93.5" r="4.45" fill="url(#gBi)" stroke="#555" stroke-width="0.4" stroke-opacity="0.6"/>
<circle cx="261.05" cy="93.5" r="4.45" fill="url(#gBi)" stroke="#555" stroke-width="0.4" stroke-opacity="0.6"/>
<circle cx="275.3" cy="93.5" r="4.45" fill="url(#gBi)" stroke="#555" stroke-width="0.4" stroke-opacity="0.6"/>
<circle cx="289.55" cy="93.5" r="4.45" fill="url(#gBi)" stroke="#555" stroke-width="0.4" stroke-opacity="0.6"/>
<circle cx="303.8" cy="93.5" r="4.45" fill="url(#gBi)" stroke="#555" stroke-width="0.4" stroke-opacity="0.6"/>
<circle cx="241.5" cy="101.4" r="3.1" fill="url(#gTe)" stroke="#d0d0e4" stroke-width="0.5" stroke-opacity="0.8"/>
<circle cx="255.75" cy="101.4" r="3.1" fill="url(#gTe)" stroke="#d0d0e4" stroke-width="0.5" stroke-opacity="0.8"/>
<circle cx="270" cy="101.4" r="3.1" fill="url(#gTe)" stroke="#d0d0e4" stroke-width="0.5" stroke-opacity="0.8"/>
<circle cx="284.25" cy="101.4" r="3.1" fill="url(#gTe)" stroke="#d0d0e4" stroke-width="0.5" stroke-opacity="0.8"/>
<circle cx="298.5" cy="101.4" r="3.1" fill="url(#gTe)" stroke="#d0d0e4" stroke-width="0.5" stroke-opacity="0.8"/>
<circle cx="236.6" cy="108.1" r="2.45" fill="url(#gMn)" stroke="#f0c8d2" stroke-width="0.4" stroke-opacity="0.8"/>
<circle cx="250.85" cy="108.1" r="2.45" fill="url(#gMn)" stroke="#f0c8d2" stroke-width="0.4" stroke-opacity="0.8"/>
<circle cx="265.1" cy="108.1" r="2.45" fill="url(#gMn)" stroke="#f0c8d2" stroke-width="0.4" stroke-opacity="0.8"/>
<circle cx="279.35" cy="108.1" r="2.45" fill="url(#gMn)" stroke="#f0c8d2" stroke-width="0.4" stroke-opacity="0.8"/>
<circle cx="293.6" cy="108.1" r="2.45" fill="url(#gMn)" stroke="#f0c8d2" stroke-width="0.4" stroke-opacity="0.8"/>
<circle cx="231.4" cy="113.6" r="3.1" fill="url(#gTe)" stroke="#d0d0e4" stroke-width="0.5" stroke-opacity="0.8"/>
<circle cx="245.65" cy="113.6" r="3.1" fill="url(#gTe)" stroke="#d0d0e4" stroke-width="0.5" stroke-opacity="0.8"/>
<circle cx="259.9" cy="113.6" r="3.1" fill="url(#gTe)" stroke="#d0d0e4" stroke-width="0.5" stroke-opacity="0.8"/>
<circle cx="274.15" cy="113.6" r="3.1" fill="url(#gTe)" stroke="#d0d0e4" stroke-width="0.5" stroke-opacity="0.8"/>
<circle cx="288.4" cy="113.6" r="3.1" fill="url(#gTe)" stroke="#d0d0e4" stroke-width="0.5" stroke-opacity="0.8"/>
<circle cx="227.3" cy="120.9" r="4.45" fill="url(#gBi)" stroke="#555" stroke-width="0.4" stroke-opacity="0.6"/>
<circle cx="241.55" cy="120.9" r="4.45" fill="url(#gBi)" stroke="#555" stroke-width="0.4" stroke-opacity="0.6"/>
<circle cx="255.8" cy="120.9" r="4.45" fill="url(#gBi)" stroke="#555" stroke-width="0.4" stroke-opacity="0.6"/>
<circle cx="270.05" cy="120.9" r="4.45" fill="url(#gBi)" stroke="#555" stroke-width="0.4" stroke-opacity="0.6"/>
<circle cx="284.3" cy="120.9" r="4.45" fill="url(#gBi)" stroke="#555" stroke-width="0.4" stroke-opacity="0.6"/>
<circle cx="222" cy="129.1" r="3.1" fill="url(#gTe)" stroke="#d0d0e4" stroke-width="0.5" stroke-opacity="0.8"/>
<circle cx="236.25" cy="129.1" r="3.1" fill="url(#gTe)" stroke="#d0d0e4" stroke-width="0.5" stroke-opacity="0.8"/>
<circle cx="250.5" cy="129.1" r="3.1" fill="url(#gTe)" stroke="#d0d0e4" stroke-width="0.5" stroke-opacity="0.8"/>
<circle cx="264.75" cy="129.1" r="3.1" fill="url(#gTe)" stroke="#d0d0e4" stroke-width="0.5" stroke-opacity="0.8"/>
<circle cx="279" cy="129.1" r="3.1" fill="url(#gTe)" stroke="#d0d0e4" stroke-width="0.5" stroke-opacity="0.8"/>
<circle cx="221.6" cy="153.4" r="2.45" fill="url(#gMn)" stroke="#f0c8d2" stroke-width="0.4" stroke-opacity="0.8"/>
<circle cx="265.2" cy="153.8" r="4.45" fill="url(#gBi)" stroke="#555" stroke-width="0.4" stroke-opacity="0.6"/>
<circle cx="299" cy="153.8" r="3.1" fill="url(#gTe)" stroke="#d0d0e4" stroke-width="0.5" stroke-opacity="0.8"/>
<g font-size="10.6" fill="#000" filter="url(#tx)"><text x="228.2" y="157.6" textLength="17.3" lengthAdjust="spacingAndGlyphs">Mn</text><text x="274" y="157.6" textLength="11" lengthAdjust="spacingAndGlyphs">Bi</text><text x="305.3" y="157.6" textLength="12.8" lengthAdjust="spacingAndGlyphs">Te</text></g>
</g>
<g id="C">
<rect x="404" y="24.8" width="157.3" height="126.6" fill="#fff" stroke="#111" stroke-width="1.3"/>
<path d="M438.95 151.4v-2.6M438.95 24.8v2.6M482.6 151.4v-2.6M482.6 24.8v2.6M526.25 151.4v-2.6M526.25 24.8v2.6M404 138.7h2.6M561.3 138.7h-2.6M404 113.3h2.6M561.3 113.3h-2.6M404 87.9h2.6M561.3 87.9h-2.6M404 62.5h2.6M561.3 62.5h-2.6M404 37.1h2.6M561.3 37.1h-2.6" stroke="#111" stroke-width="0.9" fill="none"/>
<g font-size="8" fill="#000" filter="url(#tx)">
<text x="437.75" y="161.2" text-anchor="middle">-5</text>
<text x="482.6" y="161.2" text-anchor="middle">0</text>
<text x="526.25" y="161.2" text-anchor="middle">5</text>
<text x="401.8" y="141.6" text-anchor="end">-2</text>
<text x="401.8" y="116.2" text-anchor="end">-1</text>
<text x="401.8" y="90.8" text-anchor="end">0</text>
<text x="401.8" y="65.4" text-anchor="end">1</text>
<text x="401.8" y="40" text-anchor="end">2</text>
</g>
<text x="482.6" y="175.2" font-size="10.4" fill="#111" text-anchor="middle" filter="url(#tx)">μ<tspan font-size="6.2" dy="2">0</tspan><tspan dy="-2" font-style="italic">H</tspan>(T)</text>
<text transform="translate(384.2,87.8) rotate(-90)" font-size="10.4" fill="#000" text-anchor="middle" letter-spacing="0.35"><tspan font-style="italic">R</tspan><tspan font-size="6" dy="2.2" font-style="italic">yx</tspan><tspan dy="-2.2">(kΩ)</tspan></text>
<text x="415.8" y="144.8" font-size="8.6" font-weight="700" fill="#000" textLength="20.2" lengthAdjust="spacingAndGlyphs" filter="url(#tx)">7 SL</text>
<path d="M415.2 33V95" stroke="#2aa6e2" stroke-width="0.9" stroke-dasharray="1.3 1.1" fill="none"/>
<path d="M412.7 36.23L415.2 39.43L417.7 36.23M412.7 45.09L415.2 48.29L417.7 45.09M412.7 53.94L415.2 57.14L417.7 53.94M412.7 62.8L415.2 66L417.7 62.8M412.7 71.66L415.2 74.86L417.7 71.66M412.7 80.51L415.2 83.71L417.7 80.51M412.7 89.37L415.2 92.57L417.7 89.37" stroke="#29a8e3" stroke-width="1.9" fill="none" stroke-linejoin="miter"/>
<path d="M470.2 77V138.4" stroke="#2aa6e2" stroke-width="0.9" stroke-dasharray="1.3 1.1" fill="none"/>
<path d="M467.7 80.19L470.2 83.39L472.7 80.19M467.7 91.36L470.2 88.16L472.7 91.36M467.7 97.73L470.2 100.93L472.7 97.73M467.7 108.9L470.2 105.7L472.7 108.9M467.7 115.27L470.2 118.47L472.7 115.27M467.7 126.44L470.2 123.24L472.7 126.44M467.7 132.81L470.2 136.01L472.7 132.81" stroke="#29a8e3" stroke-width="1.9" fill="none" stroke-linejoin="miter"/>
<path d="M493.4 36.6V98.4" stroke="#2aa6e2" stroke-width="0.9" stroke-dasharray="1.3 1.1" fill="none"/>
<path d="M490.9 42.21L493.4 39.01L495.9 42.21M490.9 48.64L493.4 51.84L495.9 48.64M490.9 59.87L493.4 56.67L495.9 59.87M490.9 66.3L493.4 69.5L495.9 66.3M490.9 77.53L493.4 74.33L495.9 77.53M490.9 83.96L493.4 87.16L495.9 83.96M490.9 95.19L493.4 91.99L495.9 95.19" stroke="#29a8e3" stroke-width="1.9" fill="none" stroke-linejoin="miter"/>
<path d="M548.4 80.6V142.4" stroke="#2aa6e2" stroke-width="0.9" stroke-dasharray="1.3 1.1" fill="none"/>
<path d="M545.9 86.21L548.4 83.01L550.9 86.21M545.9 95.04L548.4 91.84L550.9 95.04M545.9 103.87L548.4 100.67L550.9 103.87M545.9 112.7L548.4 109.5L550.9 112.7M545.9 121.53L548.4 118.33L550.9 121.53M545.9 130.36L548.4 127.16L550.9 130.36M545.9 139.19L548.4 135.99L550.9 139.19" stroke="#29a8e3" stroke-width="1.9" fill="none" stroke-linejoin="miter"/>
<path d="M404.3 29.4L427 29.4L430.5 29.7L433.7 30.8L437 33.2L440.5 36.9L444 41.6L447.2 46.3L450.5 50.6L454 54.4L456.5 57L459 59.8L462.4 65.5L464 67.9L465.8 69.9L467.3 71.1L469.1 71.9L472 72.5L475.9 73L477 73.4L477.9 74.6L478.8 77.5L479.6 81.5L480.3 86.5L481 91.5L481.7 96.5L482.5 100L483.4 101.9L484.6 102.7L487 103.1M475.9 73L480.5 72.9L482 73.4L483 74.8L483.8 77.8L484.5 82.5L485.2 88L485.9 93.5L486.6 98L487.5 100.8L488.6 102.2L490 102.9L491.5 103.1M487 103.1L491.5 103.1M491.5 103.1L495 103.6L497.8 104.3L499.5 105.7L501.2 108.2L502.8 111.2L504.6 114.4L507 117.8L509.6 121.2L512 124.4L514.7 127.9L517 131.8L519.7 136.4L522.2 139.6L524.8 142.1L527.3 144.2L529.9 145.8L533 146.9L536.6 147.4L545 147.5L561 147.5" stroke="#e81c24" stroke-width="1.6" fill="none" stroke-linejoin="round" stroke-linecap="round"/>
</g>
<g id="B">
<clipPath id="cp0"><rect x="104.1" y="213.9" width="61.5" height="134.3"/></clipPath>
<g clip-path="url(#cp0)"><g filter="url(#jetn)">
<linearGradient id="vg0" gradientUnits="userSpaceOnUse" x1="0" y1="213.9" x2="0" y2="348.2">
<stop offset="0" stop-color="rgb(8,8,8)"/>
<stop offset="0.14" stop-color="rgb(10,10,10)"/>
<stop offset="0.18" stop-color="rgb(19,19,19)"/>
<stop offset="0.38" stop-color="rgb(24,24,24)"/>
<stop offset="0.53" stop-color="rgb(33,33,33)"/>
<stop offset="0.61" stop-color="rgb(46,46,46)"/>
<stop offset="0.72" stop-color="rgb(55,55,55)"/>
<stop offset="0.78" stop-color="rgb(71,71,71)"/>
<stop offset="0.83" stop-color="rgb(99,99,99)"/>
<stop offset="0.89" stop-color="rgb(120,120,120)"/>
<stop offset="0.95" stop-color="rgb(133,133,133)"/>
<stop offset="1" stop-color="rgb(138,138,138)"/>
</linearGradient>
<rect x="99.1" y="208.9" width="71.5" height="144.3" fill="url(#vg0)"/>
<polygon points="117.85,237 151.85,237 139.85,279 129.85,279" fill="#fff" opacity="0.2" filter="url(#b4)"/>
<ellipse cx="103.1" cy="326" rx="11" ry="9" fill="#fff" opacity="0.16" filter="url(#b4)"/>
<ellipse cx="166.6" cy="326" rx="11" ry="9" fill="#fff" opacity="0.16" filter="url(#b4)"/>
<ellipse cx="134.85" cy="322" rx="17" ry="9" fill="#000" opacity="0.16" filter="url(#b5)"/>
<polygon points="100.1,332 113.1,335 123.1,345 125.1,353 100.1,353" fill="#fff" opacity="0.5" filter="url(#b3)"/>
<ellipse cx="106.1" cy="347" rx="6" ry="4.5" fill="#fff" opacity="0.55" filter="url(#b25)"/>
<ellipse cx="160.6" cy="350" rx="12" ry="6.5" fill="#fff" opacity="0.6" filter="url(#b25)"/>
</g></g>
<path d="M104.1 233H165.6" stroke="#fff" stroke-width="1.1" stroke-dasharray="2.6 1.7" fill="none"/>
<text x="134.85" y="227.2" font-size="8.7" fill="#fff" text-anchor="middle" filter="url(#tx)">1 SL</text>
<path d="M104.1 255.35h2M104.1 277.7h2M104.1 300.05h2M104.1 322.4h2M104.1 344.75h2M111.05 348.2v-2M134.85 348.2v-2M158.65 348.2v-2" stroke="#fff" stroke-width="0.8" fill="none" opacity="0.9"/>
<g font-size="6.9" fill="#111" text-anchor="middle" filter="url(#tx)">
<text x="110.25" y="356.3">-0.2</text>
<text x="134.85" y="356.3">0.0</text>
<text x="158.65" y="356.3">0.2</text>
<text x="108.55" y="366.6" font-size="7">M</text><text x="134.85" y="366.6" font-size="7">Γ</text><text x="162.15" y="366.6" font-size="7">M</text>
<text x="134.85" y="377.4" font-size="8.6" letter-spacing="0.3"><tspan font-style="italic">k</tspan><tspan font-size="4.8" dy="1.8" font-style="italic">∥</tspan><tspan dy="-1.8"> (Å</tspan><tspan font-size="4.8" dy="-3.2">-1</tspan><tspan dy="3.2">)</tspan></text>
</g>
<path d="M113.85 364H130.85M138.85 364H155.85" stroke="#666" stroke-width="0.6" fill="none"/>
<path d="M112.35 364l2.2 -1.3v2.6zM157.35 364l-2.2 -1.3v2.6z" fill="#111"/>
<clipPath id="cp1"><rect x="168.2" y="213.9" width="61.4" height="134.3"/></clipPath>
<g clip-path="url(#cp1)"><g filter="url(#jetn)">
<linearGradient id="vg1" gradientUnits="userSpaceOnUse" x1="0" y1="213.9" x2="0" y2="348.2">
<stop offset="0" stop-color="rgb(8,8,8)"/>
<stop offset="0.14" stop-color="rgb(10,10,10)"/>
<stop offset="0.18" stop-color="rgb(19,19,19)"/>
<stop offset="0.38" stop-color="rgb(24,24,24)"/>
<stop offset="0.53" stop-color="rgb(33,33,33)"/>
<stop offset="0.64" stop-color="rgb(46,46,46)"/>
<stop offset="0.75" stop-color="rgb(56,56,56)"/>
<stop offset="0.83" stop-color="rgb(76,76,76)"/>
<stop offset="0.92" stop-color="rgb(102,102,102)"/>
<stop offset="1" stop-color="rgb(117,117,117)"/>
</linearGradient>
<rect x="163.2" y="208.9" width="71.4" height="144.3" fill="url(#vg1)"/>
<polygon points="188.4,235 209.4,235 200.4,284 197.4,284" fill="#fff" opacity="0.25" filter="url(#b2)"/>
<polygon points="189.9,236 195.9,236 198.4,264" fill="#fff" opacity="0.17" filter="url(#b15)"/>
<polygon points="195.4,234 202.4,234 198.9,250" fill="#000" opacity="0.18" filter="url(#b1)"/>
<polygon points="198.9,280 172.9,350 224.9,350" fill="#fff" opacity="0.24" filter="url(#b4)"/>
<polygon points="198.9,285 193.9,318 203.9,318" fill="#fff" opacity="0.06" filter="url(#b2)"/>
<polygon points="164.2,321 179.2,325 189.2,338 191.2,353 164.2,353" fill="#fff" opacity="0.55" filter="url(#b3)"/>
<ellipse cx="178.2" cy="345" rx="7" ry="6.5" fill="#fff" opacity="0.6" filter="url(#b25)"/>
<polygon points="233.6,332 220.6,336 211.6,345 209.6,353 233.6,353" fill="#fff" opacity="0.6" filter="url(#b3)"/>
</g></g>
<path d="M168.2 233H229.6" stroke="#fff" stroke-width="1.1" stroke-dasharray="2.6 1.7" fill="none"/>
<text x="198.9" y="227.2" font-size="8.7" fill="#fff" text-anchor="middle" filter="url(#tx)">2 SL</text>
<path d="M168.2 255.35h2M168.2 277.7h2M168.2 300.05h2M168.2 322.4h2M168.2 344.75h2M175.1 348.2v-2M198.9 348.2v-2M222.7 348.2v-2" stroke="#fff" stroke-width="0.8" fill="none" opacity="0.9"/>
<g font-size="6.9" fill="#111" text-anchor="middle" filter="url(#tx)">
<text x="174.3" y="356.3">-0.2</text>
<text x="198.9" y="356.3">0.0</text>
<text x="222.7" y="356.3">0.2</text>
<text x="172.6" y="366.6" font-size="7">M</text><text x="198.9" y="366.6" font-size="7">Γ</text><text x="226.2" y="366.6" font-size="7">M</text>
<text x="198.9" y="377.4" font-size="8.6" letter-spacing="0.3"><tspan font-style="italic">k</tspan><tspan font-size="4.8" dy="1.8" font-style="italic">∥</tspan><tspan dy="-1.8"> (Å</tspan><tspan font-size="4.8" dy="-3.2">-1</tspan><tspan dy="3.2">)</tspan></text>
</g>
<path d="M177.9 364H194.9M202.9 364H219.9" stroke="#666" stroke-width="0.6" fill="none"/>
<path d="M176.4 364l2.2 -1.3v2.6zM221.4 364l-2.2 -1.3v2.6z" fill="#111"/>
<clipPath id="cp2"><rect x="232.7" y="213.9" width="61.4" height="134.3"/></clipPath>
<g clip-path="url(#cp2)"><g filter="url(#jetn)">
<linearGradient id="vg2" gradientUnits="userSpaceOnUse" x1="0" y1="213.9" x2="0" y2="348.2">
<stop offset="0" stop-color="rgb(8,8,8)"/>
<stop offset="0.14" stop-color="rgb(10,10,10)"/>
<stop offset="0.18" stop-color="rgb(19,19,19)"/>
<stop offset="0.38" stop-color="rgb(24,24,24)"/>
<stop offset="0.53" stop-color="rgb(32,32,32)"/>
<stop offset="0.64" stop-color="rgb(38,38,38)"/>
<stop offset="0.75" stop-color="rgb(48,48,48)"/>
<stop offset="0.86" stop-color="rgb(61,61,61)"/>
<stop offset="1" stop-color="rgb(76,76,76)"/>
</linearGradient>
<rect x="227.7" y="208.9" width="71.4" height="144.3" fill="url(#vg2)"/>
<polygon points="251.4,235 275.4,235 264.6,276 262.2,276" fill="#fff" opacity="0.43" filter="url(#b15)"/>
<polygon points="258.4,235 268.4,235 263.4,258" fill="#000" opacity="0.16" filter="url(#b15)"/>
<polygon points="261.9,274 264.9,274 265.6,292 261.2,292" fill="#fff" opacity="0.24" filter="url(#b15)"/>
<path d="M229.7 306L263.4 285L297.1 307" stroke="#fff" stroke-width="7" fill="none" opacity="0.15" stroke-linecap="round" stroke-linejoin="round" filter="url(#b3)"/>
<polygon points="263.4,291 224.7,313 224.7,352 302.1,352 302.1,314" fill="#fff" opacity="0.32" filter="url(#b4)"/>
<path d="M260.4 294L252.4 330L251.4 350" stroke="#fff" stroke-width="4" fill="none" opacity="0.16" stroke-linecap="round" stroke-linejoin="round" filter="url(#b2)"/>
<path d="M266.4 294L274.4 330L275.4 350" stroke="#fff" stroke-width="4" fill="none" opacity="0.16" stroke-linecap="round" stroke-linejoin="round" filter="url(#b2)"/>
<ellipse cx="263.4" cy="336" rx="5" ry="26" fill="#000" opacity="0.62" filter="url(#b25)"/>
<ellipse cx="236.7" cy="344" rx="14" ry="14" fill="#fff" opacity="0.62" filter="url(#b3)"/>
<ellipse cx="238.7" cy="343.5" rx="6.5" ry="7" fill="#fff" opacity="0.7" filter="url(#b25)"/>
<ellipse cx="291.1" cy="348" rx="9" ry="6.5" fill="#fff" opacity="0.55" filter="url(#b25)"/>
</g></g>
<path d="M232.7 233H294.1" stroke="#fff" stroke-width="1.1" stroke-dasharray="2.6 1.7" fill="none"/>
<text x="263.4" y="227.2" font-size="8.7" fill="#fff" text-anchor="middle" filter="url(#tx)">5 SL</text>
<path d="M232.7 255.35h2M232.7 277.7h2M232.7 300.05h2M232.7 322.4h2M232.7 344.75h2M239.6 348.2v-2M263.4 348.2v-2M287.2 348.2v-2" stroke="#fff" stroke-width="0.8" fill="none" opacity="0.9"/>
<g font-size="6.9" fill="#111" text-anchor="middle" filter="url(#tx)">
<text x="238.8" y="356.3">-0.2</text>
<text x="263.4" y="356.3">0.0</text>
<text x="287.2" y="356.3">0.2</text>
<text x="237.1" y="366.6" font-size="7">M</text><text x="263.4" y="366.6" font-size="7">Γ</text><text x="290.7" y="366.6" font-size="7">M</text>
<text x="263.4" y="377.4" font-size="8.6" letter-spacing="0.3"><tspan font-style="italic">k</tspan><tspan font-size="4.8" dy="1.8" font-style="italic">∥</tspan><tspan dy="-1.8"> (Å</tspan><tspan font-size="4.8" dy="-3.2">-1</tspan><tspan dy="3.2">)</tspan></text>
</g>
<path d="M242.4 364H259.4M267.4 364H284.4" stroke="#666" stroke-width="0.6" fill="none"/>
<path d="M240.9 364l2.2 -1.3v2.6zM285.9 364l-2.2 -1.3v2.6z" fill="#111"/>
<clipPath id="cp3"><rect x="296.7" y="213.9" width="61.1" height="134.3"/></clipPath>
<g clip-path="url(#cp3)"><g filter="url(#jetn)">
<linearGradient id="vg3" gradientUnits="userSpaceOnUse" x1="0" y1="213.9" x2="0" y2="348.2">
<stop offset="0" stop-color="rgb(8,8,8)"/>
<stop offset="0.14" stop-color="rgb(10,10,10)"/>
<stop offset="0.18" stop-color="rgb(19,19,19)"/>
<stop offset="0.38" stop-color="rgb(24,24,24)"/>
<stop offset="0.53" stop-color="rgb(32,32,32)"/>
<stop offset="0.64" stop-color="rgb(38,38,38)"/>
<stop offset="0.75" stop-color="rgb(46,46,46)"/>
<stop offset="0.86" stop-color="rgb(54,54,54)"/>
<stop offset="1" stop-color="rgb(64,64,64)"/>
</linearGradient>
<rect x="291.7" y="208.9" width="71.1" height="144.3" fill="url(#vg3)"/>
<polygon points="317.75,235 336.75,235 328.25,272 326.25,272" fill="#fff" opacity="0.36" filter="url(#b15)"/>
<polygon points="317.75,236 323.25,236 326.75,264" fill="#fff" opacity="0.26" filter="url(#b1)"/>
<polygon points="323.75,234 330.75,234 327.25,252" fill="#000" opacity="0.2" filter="url(#b1)"/>
<polygon points="325.75,271 328.75,271 329.45,292 325.05,292" fill="#fff" opacity="0.24" filter="url(#b15)"/>
<polygon points="327.25,282 290.7,335 290.7,352 363.8,352 363.8,335" fill="#fff" opacity="0.28" filter="url(#b4)"/>
<polygon points="327.25,288 321.75,334 332.75,334" fill="#fff" opacity="0.34" filter="url(#b2)"/>
<path d="M322.25 306L318.25 318" stroke="#fff" stroke-width="4" fill="none" opacity="0.2" stroke-linecap="round" stroke-linejoin="round" filter="url(#b2)"/>
<path d="M332.25 306L338.25 322" stroke="#fff" stroke-width="4" fill="none" opacity="0.2" stroke-linecap="round" stroke-linejoin="round" filter="url(#b2)"/>
<path d="M320.75 315L304.7 346" stroke="#fff" stroke-width="7.5" fill="none" opacity="0.62" stroke-linecap="round" stroke-linejoin="round" filter="url(#b2)"/>
<path d="M336.25 318L350.8 344" stroke="#fff" stroke-width="5.5" fill="none" opacity="0.3" stroke-linecap="round" stroke-linejoin="round" filter="url(#b2)"/>
<ellipse cx="320.25" cy="345" rx="2.6" ry="8" fill="#000" opacity="0.45" filter="url(#b2)" transform="rotate(22 320.25 345)"/>
<ellipse cx="334.25" cy="345" rx="2.6" ry="8" fill="#000" opacity="0.45" filter="url(#b2)" transform="rotate(-22 334.25 345)"/>
<ellipse cx="303.7" cy="346" rx="9" ry="6" fill="#fff" opacity="0.66" filter="url(#b25)" transform="rotate(-50 303.7 346)"/>
<ellipse cx="351.8" cy="346.5" rx="7" ry="5" fill="#fff" opacity="0.6" filter="url(#b25)" transform="rotate(50 351.8 346.5)"/>
</g></g>
<path d="M296.7 233H357.8" stroke="#fff" stroke-width="1.1" stroke-dasharray="2.6 1.7" fill="none"/>
<text x="327.25" y="227.2" font-size="8.7" fill="#fff" text-anchor="middle" filter="url(#tx)">7 SL</text>
<path d="M296.7 255.35h2M296.7 277.7h2M296.7 300.05h2M296.7 322.4h2M296.7 344.75h2M303.45 348.2v-2M327.25 348.2v-2M351.05 348.2v-2" stroke="#fff" stroke-width="0.8" fill="none" opacity="0.9"/>
<g font-size="6.9" fill="#111" text-anchor="middle" filter="url(#tx)">
<text x="302.65" y="356.3">-0.2</text>
<text x="327.25" y="356.3">0.0</text>
<text x="351.05" y="356.3">0.2</text>
<text x="300.95" y="366.6" font-size="7">M</text><text x="327.25" y="366.6" font-size="7">Γ</text><text x="354.55" y="366.6" font-size="7">M</text>
<text x="327.25" y="377.4" font-size="8.6" letter-spacing="0.3"><tspan font-style="italic">k</tspan><tspan font-size="4.8" dy="1.8" font-style="italic">∥</tspan><tspan dy="-1.8"> (Å</tspan><tspan font-size="4.8" dy="-3.2">-1</tspan><tspan dy="3.2">)</tspan></text>
</g>
<path d="M306.25 364H323.25M331.25 364H348.25" stroke="#666" stroke-width="0.6" fill="none"/>
<path d="M304.75 364l2.2 -1.3v2.6zM349.75 364l-2.2 -1.3v2.6z" fill="#111"/>
<g font-size="6.9" fill="#111" text-anchor="end" filter="url(#tx)">
<text x="102.6" y="235.5">0.0</text>
<text x="102.6" y="257.85">-0.1</text>
<text x="102.6" y="280.2">-0.2</text>
<text x="102.6" y="302.55">-0.3</text>
<text x="102.6" y="324.9">-0.4</text>
<text x="102.6" y="347.25">-0.5</text>
</g>
<text x="82.2" y="236" font-size="8.6" fill="#111" font-style="italic" filter="url(#tx)">E<tspan font-size="5" dy="1.8">F</tspan></text>
<text transform="translate(86.8,304.6) rotate(-90)" font-size="7.15" fill="#000">Energy (eV)</text>
<g id="MDC">
<clipPath id="cpM"><rect x="373.8" y="213.9" width="61.2" height="133.9"/></clipPath>
<rect x="373.8" y="213.9" width="61.2" height="133.9" fill="#fff"/>
<g clip-path="url(#cpM)" fill="none" stroke-linejoin="round">
<path d="M373.8 232.8L374.55 232.74L375.3 232.68L376.05 232.61L376.8 232.54L377.55 232.46L378.3 232.37L379.05 232.28L379.8 232.17L380.55 232.05L381.3 231.92L382.05 231.78L382.8 231.62L383.55 231.44L384.3 231.23L385.05 231L385.8 230.74L386.55 230.44L387.3 230.09L388.05 229.7L388.8 229.24L389.55 228.7L390.3 228.08L391.05 227.35L391.8 226.5L392.55 225.5L393.3 224.33L394.05 223L394.8 221.5L395.55 219.88L396.3 218.22L397.05 216.68L397.8 215.45L398.55 214.72L399.3 214.6L400.05 215.05L400.8 215.93L401.55 217.01L402.3 218.12L403.05 219.09L403.8 219.84L404.55 220.33L405.3 220.54L406.05 220.47L406.8 220.14L407.55 219.58L408.3 218.87L409.05 218.11L409.8 217.47L410.55 217.13L411.3 217.23L412.05 217.81L412.8 218.82L413.55 220.11L414.3 221.51L415.05 222.91L415.8 224.2L416.55 225.36L417.3 226.38L418.05 227.26L418.8 228.01L419.55 228.65L420.3 229.2L421.05 229.67L421.8 230.08L422.55 230.43L423.3 230.74L424.05 231.01L424.8 231.24L425.55 231.45L426.3 231.63L427.05 231.79L427.8 231.94L428.55 232.07L429.3 232.19L430.05 232.29L430.8 232.39L431.55 232.48L432.3 232.55L433.05 232.63L433.8 232.69L434.55 232.76L435.3 232.81" stroke="#4a4a4a" stroke-width="0.68"/>
<path d="M373.8 237.36L374.55 237.31L375.3 237.25L376.05 237.19L376.8 237.12L377.55 237.05L378.3 236.97L379.05 236.89L379.8 236.79L380.55 236.69L381.3 236.57L382.05 236.44L382.8 236.3L383.55 236.13L384.3 235.95L385.05 235.75L385.8 235.51L386.55 235.25L387.3 234.95L388.05 234.6L388.8 234.19L389.55 233.73L390.3 233.18L391.05 232.54L391.8 231.79L392.55 230.9L393.3 229.86L394.05 228.64L394.8 227.25L395.55 225.68L396.3 223.99L397.05 222.3L397.8 220.76L398.55 219.6L399.3 219L400.05 219.04L400.8 219.63L401.55 220.57L402.3 221.63L403.05 222.62L403.8 223.41L404.55 223.92L405.3 224.13L406.05 224.04L406.8 223.67L407.55 223.07L408.3 222.36L409.05 221.69L409.8 221.25L410.55 221.22L411.3 221.71L412.05 222.68L412.8 223.98L413.55 225.45L414.3 226.92L415.05 228.3L415.8 229.54L416.55 230.62L417.3 231.55L418.05 232.35L418.8 233.02L419.55 233.6L420.3 234.09L421.05 234.52L421.8 234.88L422.55 235.2L423.3 235.47L424.05 235.71L424.8 235.93L425.55 236.11L426.3 236.28L427.05 236.43L427.8 236.56L428.55 236.68L429.3 236.78L430.05 236.88L430.8 236.97L431.55 237.05L432.3 237.12L433.05 237.19L433.8 237.25L434.55 237.31L435.3 237.36" stroke="#4a4a4a" stroke-width="0.68"/>
<path d="M373.8 241.92L374.55 241.87L375.3 241.82L376.05 241.77L376.8 241.71L377.55 241.64L378.3 241.57L379.05 241.49L379.8 241.41L380.55 241.31L381.3 241.21L382.05 241.1L382.8 240.97L383.55 240.82L384.3 240.66L385.05 240.48L385.8 240.28L386.55 240.05L387.3 239.78L388.05 239.48L388.8 239.12L389.55 238.72L390.3 238.24L391.05 237.68L391.8 237.03L392.55 236.26L393.3 235.34L394.05 234.26L394.8 233L395.55 231.55L396.3 229.91L397.05 228.17L397.8 226.44L398.55 224.93L399.3 223.86L400.05 223.4L400.8 223.58L401.55 224.26L402.3 225.2L403.05 226.17L403.8 226.97L404.55 227.5L405.3 227.71L406.05 227.59L406.8 227.19L407.55 226.59L408.3 225.94L409.05 225.44L409.8 225.31L410.55 225.69L411.3 226.6L412.05 227.9L412.8 229.42L413.55 230.97L414.3 232.44L415.05 233.75L415.8 234.9L416.55 235.88L417.3 236.72L418.05 237.43L418.8 238.03L419.55 238.54L420.3 238.98L421.05 239.35L421.8 239.68L422.55 239.96L423.3 240.21L424.05 240.42L424.8 240.61L425.55 240.78L426.3 240.93L427.05 241.06L427.8 241.18L428.55 241.29L429.3 241.39L430.05 241.47L430.8 241.55L431.55 241.63L432.3 241.69L433.05 241.75L433.8 241.81L434.55 241.86L435.3 241.91" stroke="#4a4a4a" stroke-width="0.68"/>
<path d="M373.8 246.48L374.55 246.44L375.3 246.39L376.05 246.34L376.8 246.29L377.55 246.23L378.3 246.17L379.05 246.1L379.8 246.02L380.55 245.94L381.3 245.84L382.05 245.74L382.8 245.63L383.55 245.5L384.3 245.36L385.05 245.2L385.8 245.02L386.55 244.82L387.3 244.58L388.05 244.32L388.8 244.01L389.55 243.66L390.3 243.25L391.05 242.77L391.8 242.2L392.55 241.53L393.3 240.73L394.05 239.79L394.8 238.67L395.55 237.36L396.3 235.84L397.05 234.14L397.8 232.34L398.55 230.58L399.3 229.1L400.05 228.12L400.8 227.8L401.55 228.1L402.3 228.81L403.05 229.68L403.8 230.46L404.55 230.99L405.3 231.2L406.05 231.07L406.8 230.66L407.55 230.1L408.3 229.6L409.05 229.39L409.8 229.67L410.55 230.51L411.3 231.81L412.05 233.38L412.8 235.01L413.55 236.56L414.3 237.96L415.05 239.18L415.8 240.22L416.55 241.1L417.3 241.84L418.05 242.47L418.8 243L419.55 243.45L420.3 243.84L421.05 244.17L421.8 244.46L422.55 244.71L423.3 244.93L424.05 245.12L424.8 245.29L425.55 245.44L426.3 245.57L427.05 245.69L427.8 245.8L428.55 245.9L429.3 245.99L430.05 246.07L430.8 246.14L431.55 246.2L432.3 246.27L433.05 246.32L433.8 246.37L434.55 246.42L435.3 246.46" stroke="#4a4a4a" stroke-width="0.68"/>
<path d="M373.8 251.04L374.55 251L375.3 250.96L376.05 250.92L376.8 250.87L377.55 250.82L378.3 250.76L379.05 250.7L379.8 250.63L380.55 250.55L381.3 250.47L382.05 250.38L382.8 250.28L383.55 250.17L384.3 250.04L385.05 249.9L385.8 249.75L386.55 249.57L387.3 249.37L388.05 249.13L388.8 248.87L389.55 248.56L390.3 248.21L391.05 247.79L391.8 247.3L392.55 246.73L393.3 246.04L394.05 245.23L394.8 244.25L395.55 243.1L396.3 241.73L397.05 240.14L397.8 238.38L398.55 236.51L399.3 234.74L400.05 233.29L400.8 232.41L401.55 232.2L402.3 232.56L403.05 233.23L403.8 233.93L404.55 234.43L405.3 234.63L406.05 234.5L406.8 234.13L407.55 233.7L408.3 233.46L409.05 233.67L409.8 234.44L410.55 235.72L411.3 237.34L412.05 239.05L412.8 240.7L413.55 242.18L414.3 243.47L415.05 244.57L415.8 245.5L416.55 246.27L417.3 246.92L418.05 247.47L418.8 247.94L419.55 248.34L420.3 248.68L421.05 248.97L421.8 249.22L422.55 249.44L423.3 249.64L424.05 249.81L424.8 249.96L425.55 250.09L426.3 250.21L427.05 250.32L427.8 250.42L428.55 250.51L429.3 250.59L430.05 250.66L430.8 250.72L431.55 250.78L432.3 250.84L433.05 250.89L433.8 250.94L434.55 250.98L435.3 251.02" stroke="#4a4a4a" stroke-width="0.68"/>
<path d="M373.8 255.6L374.55 255.57L375.3 255.53L376.05 255.49L376.8 255.45L377.55 255.4L378.3 255.35L379.05 255.3L379.8 255.23L380.55 255.17L381.3 255.1L382.05 255.02L382.8 254.93L383.55 254.83L384.3 254.72L385.05 254.6L385.8 254.46L386.55 254.31L387.3 254.13L388.05 253.93L388.8 253.7L389.55 253.44L390.3 253.13L391.05 252.78L391.8 252.36L392.55 251.87L393.3 251.29L394.05 250.59L394.8 249.76L395.55 248.76L396.3 247.56L397.05 246.14L397.8 244.49L398.55 242.66L399.3 240.74L400.05 238.94L400.8 237.54L401.55 236.74L402.3 236.6L403.05 236.94L403.8 237.46L404.55 237.89L405.3 238.07L406.05 237.97L406.8 237.71L407.55 237.52L408.3 237.69L409.05 238.41L409.8 239.68L410.55 241.33L411.3 243.13L412.05 244.87L412.8 246.45L413.55 247.81L414.3 248.96L415.05 249.93L415.8 250.74L416.55 251.41L417.3 251.98L418.05 252.46L418.8 252.86L419.55 253.2L420.3 253.5L421.05 253.76L421.8 253.98L422.55 254.17L423.3 254.34L424.05 254.5L424.8 254.63L425.55 254.75L426.3 254.86L427.05 254.95L427.8 255.04L428.55 255.12L429.3 255.19L430.05 255.25L430.8 255.31L431.55 255.36L432.3 255.41L433.05 255.46L433.8 255.5L434.55 255.54L435.3 255.58" stroke="#4a4a4a" stroke-width="0.68"/>
<path d="M373.8 260.16L374.55 260.13L375.3 260.1L376.05 260.06L376.8 260.03L377.55 259.98L378.3 259.94L379.05 259.89L379.8 259.84L380.55 259.78L381.3 259.72L382.05 259.65L382.8 259.57L383.55 259.49L384.3 259.39L385.05 259.29L385.8 259.17L386.55 259.04L387.3 258.88L388.05 258.71L388.8 258.52L389.55 258.29L390.3 258.04L391.05 257.74L391.8 257.38L392.55 256.97L393.3 256.48L394.05 255.89L394.8 255.19L395.55 254.35L396.3 253.33L397.05 252.1L397.8 250.63L398.55 248.93L399.3 247.03L400.05 245.06L400.8 243.26L401.55 241.89L402.3 241.14L403.05 241L403.8 241.22L404.55 241.51L405.3 241.65L406.05 241.63L406.8 241.58L407.55 241.78L408.3 242.48L409.05 243.74L409.8 245.43L410.55 247.3L411.3 249.13L412.05 250.79L412.8 252.22L413.55 253.43L414.3 254.43L415.05 255.26L415.8 255.95L416.55 256.53L417.3 257.01L418.05 257.42L418.8 257.77L419.55 258.07L420.3 258.32L421.05 258.54L421.8 258.73L422.55 258.9L423.3 259.05L424.05 259.18L424.8 259.3L425.55 259.4L426.3 259.5L427.05 259.58L427.8 259.66L428.55 259.73L429.3 259.79L430.05 259.85L430.8 259.9L431.55 259.95L432.3 259.99L433.05 260.03L433.8 260.07L434.55 260.1L435.3 260.13" stroke="#4a4a4a" stroke-width="0.68"/>
<path d="M373.8 264.72L374.55 264.69L375.3 264.67L376.05 264.64L376.8 264.6L377.55 264.57L378.3 264.53L379.05 264.49L379.8 264.44L380.55 264.39L381.3 264.34L382.05 264.28L382.8 264.22L383.55 264.14L384.3 264.06L385.05 263.97L385.8 263.87L386.55 263.76L387.3 263.63L388.05 263.49L388.8 263.32L389.55 263.14L390.3 262.92L391.05 262.67L391.8 262.38L392.55 262.03L393.3 261.63L394.05 261.14L394.8 260.57L395.55 259.87L396.3 259.02L397.05 257.99L397.8 256.74L398.55 255.24L399.3 253.49L400.05 251.54L400.8 249.53L401.55 247.72L402.3 246.36L403.05 245.62L403.8 245.4L404.55 245.45L405.3 245.55L406.05 245.67L406.8 245.96L407.55 246.68L408.3 247.95L409.05 249.67L409.8 251.61L410.55 253.52L411.3 255.25L412.05 256.74L412.8 257.99L413.55 259.02L414.3 259.86L415.05 260.57L415.8 261.15L416.55 261.63L417.3 262.04L418.05 262.38L418.8 262.67L419.55 262.92L420.3 263.14L421.05 263.33L421.8 263.49L422.55 263.63L423.3 263.76L424.05 263.87L424.8 263.97L425.55 264.06L426.3 264.14L427.05 264.22L427.8 264.28L428.55 264.34L429.3 264.4L430.05 264.44L430.8 264.49L431.55 264.53L432.3 264.57L433.05 264.6L433.8 264.64L434.55 264.67L435.3 264.69" stroke="#4a4a4a" stroke-width="0.68"/>
<path d="M373.8 269.28L374.55 269.26L375.3 269.23L376.05 269.21L376.8 269.18L377.55 269.15L378.3 269.12L379.05 269.08L379.8 269.05L380.55 269L381.3 268.96L382.05 268.91L382.8 268.85L383.55 268.79L384.3 268.73L385.05 268.65L385.8 268.57L386.55 268.47L387.3 268.37L388.05 268.25L388.8 268.11L389.55 267.96L390.3 267.78L391.05 267.57L391.8 267.33L392.55 267.05L393.3 266.72L394.05 266.32L394.8 265.85L395.55 265.28L396.3 264.59L397.05 263.75L397.8 262.72L398.55 261.45L399.3 259.93L400.05 258.14L400.8 256.14L401.55 254.08L402.3 252.24L403.05 250.87L403.8 250.09L404.55 249.81L405.3 249.85L406.05 250.19L406.8 250.94L407.55 252.24L408.3 254.01L409.05 256.02L409.8 258.01L410.55 259.81L411.3 261.35L412.05 262.63L412.8 263.68L413.55 264.53L414.3 265.24L415.05 265.81L415.8 266.29L416.55 266.69L417.3 267.03L418.05 267.31L418.8 267.55L419.55 267.76L420.3 267.94L421.05 268.1L421.8 268.24L422.55 268.36L423.3 268.47L424.05 268.56L424.8 268.64L425.55 268.72L426.3 268.79L427.05 268.85L427.8 268.91L428.55 268.96L429.3 269L430.05 269.04L430.8 269.08L431.55 269.12L432.3 269.15L433.05 269.18L433.8 269.21L434.55 269.23L435.3 269.26" stroke="#4a4a4a" stroke-width="0.68"/>
<path d="M373.8 273.84L374.55 273.82L375.3 273.8L376.05 273.78L376.8 273.76L377.55 273.73L378.3 273.7L379.05 273.67L379.8 273.64L380.55 273.61L381.3 273.57L382.05 273.53L382.8 273.48L383.55 273.43L384.3 273.37L385.05 273.31L385.8 273.24L386.55 273.16L387.3 273.07L388.05 272.97L388.8 272.86L389.55 272.73L390.3 272.58L391.05 272.41L391.8 272.21L392.55 271.98L393.3 271.7L394.05 271.38L394.8 270.99L395.55 270.52L396.3 269.96L397.05 269.26L397.8 268.41L398.55 267.35L399.3 266.05L400.05 264.46L400.8 262.58L401.55 260.47L402.3 258.31L403.05 256.39L403.8 255L404.55 254.3L405.3 254.27L406.05 254.91L406.8 256.21L407.55 258.05L408.3 260.19L409.05 262.31L409.8 264.22L410.55 265.85L411.3 267.19L412.05 268.27L412.8 269.15L413.55 269.87L414.3 270.45L415.05 270.93L415.8 271.33L416.55 271.66L417.3 271.94L418.05 272.18L418.8 272.38L419.55 272.56L420.3 272.71L421.05 272.84L421.8 272.95L422.55 273.06L423.3 273.15L424.05 273.23L424.8 273.3L425.55 273.36L426.3 273.42L427.05 273.47L427.8 273.52L428.55 273.56L429.3 273.6L430.05 273.64L430.8 273.67L431.55 273.7L432.3 273.73L433.05 273.75L433.8 273.78L434.55 273.8L435.3 273.82" stroke="#4a4a4a" stroke-width="0.68"/>
<path d="M373.8 278.4L374.55 278.38L375.3 278.37L376.05 278.35L376.8 278.33L377.55 278.31L378.3 278.28L379.05 278.26L379.8 278.23L380.55 278.2L381.3 278.17L382.05 278.13L382.8 278.09L383.55 278.05L384.3 278L385.05 277.94L385.8 277.88L386.55 277.81L387.3 277.74L388.05 277.65L388.8 277.56L389.55 277.45L390.3 277.32L391.05 277.17L391.8 277L392.55 276.81L393.3 276.58L394.05 276.3L394.8 275.98L395.55 275.58L396.3 275.1L397.05 274.52L397.8 273.79L398.55 272.89L399.3 271.76L400.05 270.36L400.8 268.63L401.55 266.57L402.3 264.25L403.05 261.92L403.8 259.96L404.55 258.79L405.3 258.7L406.05 259.68L406.8 261.53L407.55 263.82L408.3 266.16L409.05 268.28L409.8 270.07L410.55 271.53L411.3 272.7L412.05 273.64L412.8 274.4L413.55 275.01L414.3 275.5L415.05 275.91L415.8 276.25L416.55 276.53L417.3 276.77L418.05 276.97L418.8 277.14L419.55 277.29L420.3 277.42L421.05 277.54L421.8 277.64L422.55 277.72L423.3 277.8L424.05 277.87L424.8 277.93L425.55 277.99L426.3 278.04L427.05 278.08L427.8 278.12L428.55 278.16L429.3 278.19L430.05 278.22L430.8 278.25L431.55 278.28L432.3 278.3L433.05 278.32L433.8 278.34L434.55 278.36L435.3 278.38" stroke="#4a4a4a" stroke-width="0.68"/>
<path d="M373.8 282.96L374.55 282.95L375.3 282.93L376.05 282.91L376.8 282.9L377.55 282.88L378.3 282.86L379.05 282.83L379.8 282.81L380.55 282.78L381.3 282.75L382.05 282.72L382.8 282.68L383.55 282.65L384.3 282.6L385.05 282.55L385.8 282.5L386.55 282.44L387.3 282.37L388.05 282.3L388.8 282.21L389.55 282.11L390.3 282L391.05 281.87L391.8 281.73L392.55 281.55L393.3 281.35L394.05 281.11L394.8 280.82L395.55 280.47L396.3 280.05L397.05 279.53L397.8 278.88L398.55 278.08L399.3 277.07L400.05 275.78L400.8 274.17L401.55 272.17L402.3 269.8L403.05 267.21L403.8 264.83L404.55 263.28L405.3 263.12L406.05 264.43L406.8 266.7L407.55 269.29L408.3 271.72L409.05 273.8L409.8 275.49L410.55 276.83L411.3 277.9L412.05 278.74L412.8 279.41L413.55 279.95L414.3 280.39L415.05 280.75L415.8 281.05L416.55 281.3L417.3 281.51L418.05 281.69L418.8 281.85L419.55 281.98L420.3 282.09L421.05 282.19L421.8 282.28L422.55 282.36L423.3 282.43L424.05 282.49L424.8 282.54L425.55 282.59L426.3 282.64L427.05 282.68L427.8 282.71L428.55 282.75L429.3 282.78L430.05 282.8L430.8 282.83L431.55 282.85L432.3 282.87L433.05 282.89L433.8 282.91L434.55 282.93L435.3 282.94" stroke="#4a4a4a" stroke-width="0.68"/>
<path d="M373.8 287.52L374.55 287.51L375.3 287.5L376.05 287.48L376.8 287.47L377.55 287.45L378.3 287.44L379.05 287.42L379.8 287.4L380.55 287.38L381.3 287.35L382.05 287.33L382.8 287.3L383.55 287.27L384.3 287.23L385.05 287.19L385.8 287.15L386.55 287.1L387.3 287.05L388.05 286.99L388.8 286.92L389.55 286.84L390.3 286.75L391.05 286.64L391.8 286.52L392.55 286.38L393.3 286.21L394.05 286.01L394.8 285.77L395.55 285.48L396.3 285.12L397.05 284.68L397.8 284.13L398.55 283.43L399.3 282.53L400.05 281.36L400.8 279.84L401.55 277.88L402.3 275.41L403.05 272.55L403.8 269.71L404.55 267.76L405.3 267.56L406.05 269.22L406.8 271.96L407.55 274.87L408.3 277.42L409.05 279.48L409.8 281.09L410.55 282.32L411.3 283.27L412.05 284L412.8 284.58L413.55 285.04L414.3 285.41L415.05 285.72L415.8 285.97L416.55 286.17L417.3 286.35L418.05 286.49L418.8 286.62L419.55 286.73L420.3 286.82L421.05 286.9L421.8 286.97L422.55 287.04L423.3 287.09L424.05 287.14L424.8 287.19L425.55 287.23L426.3 287.26L427.05 287.29L427.8 287.32L428.55 287.35L429.3 287.37L430.05 287.39L430.8 287.41L431.55 287.43L432.3 287.45L433.05 287.47L433.8 287.48L434.55 287.49L435.3 287.51" stroke="#4a4a4a" stroke-width="0.68"/>
<path d="M373.8 292.08L374.55 292.07L375.3 292.06L376.05 292.05L376.8 292.04L377.55 292.03L378.3 292.01L379.05 292L379.8 291.98L380.55 291.97L381.3 291.95L382.05 291.93L382.8 291.91L383.55 291.88L384.3 291.85L385.05 291.82L385.8 291.79L386.55 291.75L387.3 291.71L388.05 291.66L388.8 291.6L389.55 291.54L390.3 291.47L391.05 291.39L391.8 291.29L392.55 291.17L393.3 291.04L394.05 290.88L394.8 290.68L395.55 290.44L396.3 290.15L397.05 289.78L397.8 289.32L398.55 288.72L399.3 287.94L400.05 286.9L400.8 285.5L401.55 283.62L402.3 281.13L403.05 278.02L403.8 274.71L404.55 272.27L405.3 272.01L406.05 274.1L406.8 277.35L407.55 280.55L408.3 283.17L409.05 285.17L409.8 286.65L410.55 287.75L411.3 288.58L412.05 289.21L412.8 289.7L413.55 290.08L414.3 290.39L415.05 290.64L415.8 290.84L416.55 291.01L417.3 291.15L418.05 291.27L418.8 291.37L419.55 291.45L420.3 291.53L421.05 291.59L421.8 291.65L422.55 291.7L423.3 291.74L424.05 291.78L424.8 291.82L425.55 291.85L426.3 291.88L427.05 291.9L427.8 291.92L428.55 291.95L429.3 291.96L430.05 291.98L430.8 292L431.55 292.01L432.3 292.03L433.05 292.04L433.8 292.05L434.55 292.06L435.3 292.07" stroke="#3434b0" stroke-width="1.05"/>
<path d="M373.8 296.64L374.55 296.63L375.3 296.63L376.05 296.62L376.8 296.61L377.55 296.6L378.3 296.59L379.05 296.58L379.8 296.57L380.55 296.55L381.3 296.54L382.05 296.52L382.8 296.5L383.55 296.48L384.3 296.46L385.05 296.44L385.8 296.41L386.55 296.38L387.3 296.35L388.05 296.31L388.8 296.27L389.55 296.22L390.3 296.16L391.05 296.09L391.8 296.01L392.55 295.92L393.3 295.81L394.05 295.68L394.8 295.53L395.55 295.33L396.3 295.09L397.05 294.79L397.8 294.41L398.55 293.91L399.3 293.24L400.05 292.33L400.8 291.08L401.55 289.33L402.3 286.88L403.05 283.61L403.8 279.81L404.55 276.8L405.3 276.47L406.05 279.09L406.8 282.87L407.55 286.29L408.3 288.9L409.05 290.78L409.8 292.11L410.55 293.08L411.3 293.79L412.05 294.32L412.8 294.72L413.55 295.04L414.3 295.29L415.05 295.49L415.8 295.65L416.55 295.79L417.3 295.9L418.05 296L418.8 296.08L419.55 296.15L420.3 296.2L421.05 296.26L421.8 296.3L422.55 296.34L423.3 296.37L424.05 296.41L424.8 296.43L425.55 296.46L426.3 296.48L427.05 296.5L427.8 296.52L428.55 296.53L429.3 296.55L430.05 296.56L430.8 296.58L431.55 296.59L432.3 296.6L433.05 296.61L433.8 296.62L434.55 296.62L435.3 296.63" stroke="#3434b0" stroke-width="1.05"/>
<path d="M373.8 301.2L374.55 301.19L375.3 301.19L376.05 301.18L376.8 301.17L377.55 301.16L378.3 301.15L379.05 301.14L379.8 301.12L380.55 301.11L381.3 301.1L382.05 301.08L382.8 301.06L383.55 301.04L384.3 301.02L385.05 301L385.8 300.97L386.55 300.94L387.3 300.9L388.05 300.87L388.8 300.82L389.55 300.77L390.3 300.71L391.05 300.65L391.8 300.57L392.55 300.48L393.3 300.37L394.05 300.24L394.8 300.08L395.55 299.88L396.3 299.64L397.05 299.34L397.8 298.95L398.55 298.44L399.3 297.77L400.05 296.86L400.8 295.6L401.55 293.83L402.3 291.36L403.05 288.07L403.8 284.24L404.55 281.2L405.3 280.87L406.05 283.51L406.8 287.32L407.55 290.77L408.3 293.4L409.05 295.29L409.8 296.64L410.55 297.61L411.3 298.32L412.05 298.86L412.8 299.27L413.55 299.59L414.3 299.84L415.05 300.04L415.8 300.21L416.55 300.34L417.3 300.46L418.05 300.55L418.8 300.63L419.55 300.7L420.3 300.76L421.05 300.81L421.8 300.86L422.55 300.9L423.3 300.93L424.05 300.96L424.8 300.99L425.55 301.02L426.3 301.04L427.05 301.06L427.8 301.08L428.55 301.09L429.3 301.11L430.05 301.12L430.8 301.13L431.55 301.15L432.3 301.16L433.05 301.17L433.8 301.18L434.55 301.18L435.3 301.19" stroke="#4a4a4a" stroke-width="0.68"/>
<path d="M373.8 305.76L374.55 305.75L375.3 305.75L376.05 305.74L376.8 305.73L377.55 305.72L378.3 305.71L379.05 305.7L379.8 305.68L380.55 305.67L381.3 305.66L382.05 305.64L382.8 305.62L383.55 305.6L384.3 305.58L385.05 305.56L385.8 305.53L386.55 305.5L387.3 305.46L388.05 305.42L388.8 305.38L389.55 305.33L390.3 305.27L391.05 305.2L391.8 305.12L392.55 305.03L393.3 304.92L394.05 304.79L394.8 304.63L395.55 304.43L396.3 304.19L397.05 303.88L397.8 303.49L398.55 302.98L399.3 302.3L400.05 301.38L400.8 300.11L401.55 298.33L402.3 295.85L403.05 292.53L403.8 288.67L404.55 285.61L405.3 285.27L406.05 287.93L406.8 291.77L407.55 295.25L408.3 297.9L409.05 299.8L409.8 301.16L410.55 302.14L411.3 302.86L412.05 303.4L412.8 303.81L413.55 304.13L414.3 304.39L415.05 304.59L415.8 304.76L416.55 304.9L417.3 305.01L418.05 305.11L418.8 305.19L419.55 305.26L420.3 305.32L421.05 305.37L421.8 305.42L422.55 305.46L423.3 305.49L424.05 305.52L424.8 305.55L425.55 305.57L426.3 305.6L427.05 305.62L427.8 305.64L428.55 305.65L429.3 305.67L430.05 305.68L430.8 305.69L431.55 305.71L432.3 305.72L433.05 305.73L433.8 305.74L434.55 305.74L435.3 305.75" stroke="#4a4a4a" stroke-width="0.68"/>
<path d="M373.8 310.32L374.55 310.31L375.3 310.31L376.05 310.3L376.8 310.29L377.55 310.28L378.3 310.27L379.05 310.26L379.8 310.24L380.55 310.23L381.3 310.21L382.05 310.2L382.8 310.18L383.55 310.16L384.3 310.14L385.05 310.11L385.8 310.09L386.55 310.06L387.3 310.02L388.05 309.98L388.8 309.94L389.55 309.89L390.3 309.83L391.05 309.76L391.8 309.68L392.55 309.58L393.3 309.47L394.05 309.34L394.8 309.18L395.55 308.98L396.3 308.74L397.05 308.43L397.8 308.04L398.55 307.52L399.3 306.84L400.05 305.91L400.8 304.63L401.55 302.83L402.3 300.33L403.05 296.98L403.8 293.1L404.55 290.01L405.3 289.68L406.05 292.35L406.8 296.23L407.55 299.73L408.3 302.4L409.05 304.32L409.8 305.69L410.55 306.67L411.3 307.4L412.05 307.94L412.8 308.36L413.55 308.68L414.3 308.94L415.05 309.14L415.8 309.31L416.55 309.45L417.3 309.56L418.05 309.66L418.8 309.74L419.55 309.81L420.3 309.87L421.05 309.93L421.8 309.97L422.55 310.01L423.3 310.05L424.05 310.08L424.8 310.11L425.55 310.13L426.3 310.16L427.05 310.18L427.8 310.19L428.55 310.21L429.3 310.23L430.05 310.24L430.8 310.25L431.55 310.27L432.3 310.28L433.05 310.29L433.8 310.29L434.55 310.3L435.3 310.31" stroke="#4a4a4a" stroke-width="0.68"/>
<path d="M373.8 314.88L374.55 314.87L375.3 314.86L376.05 314.86L376.8 314.85L377.55 314.84L378.3 314.83L379.05 314.82L379.8 314.8L380.55 314.79L381.3 314.77L382.05 314.76L382.8 314.74L383.55 314.72L384.3 314.7L385.05 314.67L385.8 314.64L386.55 314.61L387.3 314.58L388.05 314.54L388.8 314.49L389.55 314.44L390.3 314.38L391.05 314.31L391.8 314.23L392.55 314.14L393.3 314.03L394.05 313.89L394.8 313.73L395.55 313.53L396.3 313.29L397.05 312.98L397.8 312.58L398.55 312.06L399.3 311.37L400.05 310.44L400.8 309.15L401.55 307.34L402.3 304.81L403.05 301.44L403.8 297.53L404.55 294.42L405.3 294.08L406.05 296.78L406.8 300.68L407.55 304.21L408.3 306.9L409.05 308.83L409.8 310.21L410.55 311.21L411.3 311.94L412.05 312.49L412.8 312.9L413.55 313.23L414.3 313.49L415.05 313.69L415.8 313.86L416.55 314L417.3 314.12L418.05 314.22L418.8 314.3L419.55 314.37L420.3 314.43L421.05 314.48L421.8 314.53L422.55 314.57L423.3 314.61L424.05 314.64L424.8 314.67L425.55 314.69L426.3 314.71L427.05 314.74L427.8 314.75L428.55 314.77L429.3 314.79L430.05 314.8L430.8 314.81L431.55 314.82L432.3 314.84L433.05 314.85L433.8 314.85L434.55 314.86L435.3 314.87" stroke="#4a4a4a" stroke-width="0.68"/>
<path d="M373.8 319.44L374.55 319.43L375.3 319.42L376.05 319.42L376.8 319.41L377.55 319.4L378.3 319.39L379.05 319.37L379.8 319.36L380.55 319.35L381.3 319.33L382.05 319.32L382.8 319.3L383.55 319.28L384.3 319.26L385.05 319.23L385.8 319.2L386.55 319.17L387.3 319.14L388.05 319.1L388.8 319.05L389.55 319L390.3 318.94L391.05 318.87L391.8 318.79L392.55 318.69L393.3 318.58L394.05 318.45L394.8 318.28L395.55 318.08L396.3 317.83L397.05 317.52L397.8 317.12L398.55 316.6L399.3 315.9L400.05 314.96L400.8 313.66L401.55 311.84L402.3 309.3L403.05 305.9L403.8 301.96L404.55 298.82L405.3 298.48L406.05 301.2L406.8 305.13L407.55 308.69L408.3 311.4L409.05 313.35L409.8 314.74L410.55 315.74L411.3 316.47L412.05 317.03L412.8 317.45L413.55 317.78L414.3 318.04L415.05 318.25L415.8 318.42L416.55 318.56L417.3 318.67L418.05 318.77L418.8 318.85L419.55 318.93L420.3 318.99L421.05 319.04L421.8 319.09L422.55 319.13L423.3 319.16L424.05 319.2L424.8 319.22L425.55 319.25L426.3 319.27L427.05 319.29L427.8 319.31L428.55 319.33L429.3 319.35L430.05 319.36L430.8 319.37L431.55 319.38L432.3 319.4L433.05 319.41L433.8 319.41L434.55 319.42L435.3 319.43" stroke="#4a4a4a" stroke-width="0.68"/>
<path d="M373.8 324L374.55 323.99L375.3 323.97L376.05 323.96L376.8 323.94L377.55 323.92L378.3 323.9L379.05 323.88L379.8 323.85L380.55 323.83L381.3 323.8L382.05 323.77L382.8 323.73L383.55 323.7L384.3 323.65L385.05 323.61L385.8 323.56L386.55 323.5L387.3 323.43L388.05 323.36L388.8 323.27L389.55 323.17L390.3 323.06L391.05 322.93L391.8 322.78L392.55 322.61L393.3 322.4L394.05 322.15L394.8 321.85L395.55 321.48L396.3 321.03L397.05 320.47L397.8 319.75L398.55 318.85L399.3 317.67L400.05 316.16L400.8 314.22L401.55 311.81L402.3 309.01L403.05 306.18L403.8 303.92L404.55 302.73L405.3 302.76L406.05 303.95L406.8 306.15L407.55 308.92L408.3 311.69L409.05 314.11L409.8 316.07L410.55 317.6L411.3 318.79L412.05 319.71L412.8 320.43L413.55 321L414.3 321.46L415.05 321.83L415.8 322.14L416.55 322.39L417.3 322.6L418.05 322.78L418.8 322.93L419.55 323.06L420.3 323.17L421.05 323.27L421.8 323.35L422.55 323.43L423.3 323.49L424.05 323.55L424.8 323.61L425.55 323.65L426.3 323.69L427.05 323.73L427.8 323.77L428.55 323.8L429.3 323.83L430.05 323.85L430.8 323.88L431.55 323.9L432.3 323.92L433.05 323.94L433.8 323.96L434.55 323.97L435.3 323.99" stroke="#4a4a4a" stroke-width="0.68"/>
<path d="M373.8 328.56L374.55 328.54L375.3 328.51L376.05 328.49L376.8 328.46L377.55 328.43L378.3 328.39L379.05 328.36L379.8 328.32L380.55 328.27L381.3 328.23L382.05 328.17L382.8 328.12L383.55 328.05L384.3 327.98L385.05 327.9L385.8 327.82L386.55 327.72L387.3 327.6L388.05 327.48L388.8 327.33L389.55 327.17L390.3 326.98L391.05 326.75L391.8 326.49L392.55 326.19L393.3 325.83L394.05 325.39L394.8 324.87L395.55 324.23L396.3 323.44L397.05 322.47L397.8 321.26L398.55 319.76L399.3 317.92L400.05 315.74L400.8 313.29L401.55 310.83L402.3 308.77L403.05 307.48L403.8 307L404.55 307.02L405.3 307.21L406.05 307.48L406.8 308.09L407.55 309.34L408.3 311.27L409.05 313.6L409.8 315.95L410.55 318.08L411.3 319.88L412.05 321.35L412.8 322.55L413.55 323.5L414.3 324.28L415.05 324.91L415.8 325.43L416.55 325.86L417.3 326.22L418.05 326.52L418.8 326.77L419.55 326.99L420.3 327.18L421.05 327.35L421.8 327.49L422.55 327.61L423.3 327.73L424.05 327.82L424.8 327.91L425.55 327.99L426.3 328.06L427.05 328.12L427.8 328.18L428.55 328.23L429.3 328.28L430.05 328.32L430.8 328.36L431.55 328.4L432.3 328.43L433.05 328.46L433.8 328.49L434.55 328.52L435.3 328.54" stroke="#4a4a4a" stroke-width="0.68"/>
<path d="M373.8 333.12L374.55 333.09L375.3 333.05L376.05 333.01L376.8 332.96L377.55 332.92L378.3 332.87L379.05 332.81L379.8 332.75L380.55 332.68L381.3 332.61L382.05 332.53L382.8 332.44L383.55 332.34L384.3 332.23L385.05 332.11L385.8 331.97L386.55 331.81L387.3 331.63L388.05 331.43L388.8 331.2L389.55 330.94L390.3 330.63L391.05 330.28L391.8 329.86L392.55 329.36L393.3 328.78L394.05 328.07L394.8 327.23L395.55 326.2L396.3 324.97L397.05 323.48L397.8 321.71L398.55 319.66L399.3 317.42L400.05 315.18L400.8 313.23L401.55 311.92L402.3 311.4L403.05 311.56L403.8 312.07L404.55 312.54L405.3 312.75L406.05 312.66L406.8 312.45L407.55 312.43L408.3 312.93L409.05 314.12L409.8 315.9L410.55 317.99L411.3 320.11L412.05 322.06L412.8 323.76L413.55 325.2L414.3 326.39L415.05 327.39L415.8 328.21L416.55 328.89L417.3 329.46L418.05 329.94L418.8 330.35L419.55 330.7L420.3 331L421.05 331.25L421.8 331.48L422.55 331.67L423.3 331.85L424.05 332L424.8 332.13L425.55 332.25L426.3 332.36L427.05 332.46L427.8 332.55L428.55 332.63L429.3 332.7L430.05 332.76L430.8 332.82L431.55 332.88L432.3 332.93L433.05 332.98L433.8 333.02L434.55 333.06L435.3 333.09" stroke="#4a4a4a" stroke-width="0.68"/>
<path d="M373.8 337.68L374.55 337.63L375.3 337.58L376.05 337.52L376.8 337.46L377.55 337.39L378.3 337.32L379.05 337.24L379.8 337.15L380.55 337.05L381.3 336.94L382.05 336.83L382.8 336.7L383.55 336.55L384.3 336.39L385.05 336.21L385.8 336L386.55 335.77L387.3 335.51L388.05 335.21L388.8 334.86L389.55 334.47L390.3 334L391.05 333.47L391.8 332.83L392.55 332.09L393.3 331.21L394.05 330.17L394.8 328.93L395.55 327.48L396.3 325.79L397.05 323.89L397.8 321.83L398.55 319.75L399.3 317.88L400.05 316.5L400.8 315.8L401.55 315.82L402.3 316.38L403.05 317.2L403.8 317.98L404.55 318.53L405.3 318.72L406.05 318.55L406.8 318.1L407.55 317.53L408.3 317.12L409.05 317.12L409.8 317.73L410.55 318.95L411.3 320.64L412.05 322.56L412.8 324.49L413.55 326.29L414.3 327.89L415.05 329.28L415.8 330.46L416.55 331.46L417.3 332.3L418.05 333.02L418.8 333.63L419.55 334.15L420.3 334.59L421.05 334.97L421.8 335.3L422.55 335.59L423.3 335.85L424.05 336.07L424.8 336.27L425.55 336.45L426.3 336.6L427.05 336.74L427.8 336.87L428.55 336.98L429.3 337.09L430.05 337.18L430.8 337.27L431.55 337.34L432.3 337.42L433.05 337.48L433.8 337.54L434.55 337.6L435.3 337.65" stroke="#4a4a4a" stroke-width="0.68"/>
<path d="M373.8 342.24L374.55 342.17L375.3 342.1L376.05 342.02L376.8 341.94L377.55 341.84L378.3 341.74L379.05 341.63L379.8 341.51L380.55 341.37L381.3 341.22L382.05 341.06L382.8 340.88L383.55 340.67L384.3 340.44L385.05 340.19L385.8 339.89L386.55 339.57L387.3 339.19L388.05 338.76L388.8 338.27L389.55 337.7L390.3 337.04L391.05 336.27L391.8 335.37L392.55 334.33L393.3 333.12L394.05 331.72L394.8 330.12L395.55 328.35L396.3 326.45L397.05 324.52L397.8 322.74L398.55 321.32L399.3 320.44L400.05 320.2L400.8 320.56L401.55 321.35L402.3 322.33L403.05 323.29L403.8 324.07L404.55 324.56L405.3 324.73L406.05 324.57L406.8 324.1L407.55 323.42L408.3 322.67L409.05 322.03L409.8 321.72L410.55 321.9L411.3 322.66L412.05 323.92L412.8 325.53L413.55 327.3L414.3 329.07L415.05 330.73L415.8 332.24L416.55 333.56L417.3 334.71L418.05 335.7L418.8 336.56L419.55 337.29L420.3 337.92L421.05 338.46L421.8 338.93L422.55 339.34L423.3 339.7L424.05 340.02L424.8 340.3L425.55 340.54L426.3 340.76L427.05 340.96L427.8 341.13L428.55 341.29L429.3 341.44L430.05 341.57L430.8 341.68L431.55 341.79L432.3 341.89L433.05 341.98L433.8 342.06L434.55 342.14L435.3 342.21" stroke="#4a4a4a" stroke-width="0.68"/>
<path d="M373.8 346.8L374.55 346.71L375.3 346.61L376.05 346.51L376.8 346.39L377.55 346.26L378.3 346.13L379.05 345.97L379.8 345.81L380.55 345.62L381.3 345.42L382.05 345.19L382.8 344.94L383.55 344.66L384.3 344.34L385.05 343.98L385.8 343.58L386.55 343.12L387.3 342.6L388.05 342L388.8 341.31L389.55 340.52L390.3 339.62L391.05 338.58L391.8 337.39L392.55 336.03L393.3 334.51L394.05 332.84L394.8 331.06L395.55 329.25L396.3 327.55L397.05 326.1L397.8 325.08L398.55 324.6L399.3 324.69L400.05 325.27L400.8 326.19L401.55 327.25L402.3 328.3L403.05 329.22L403.8 329.92L404.55 330.35L405.3 330.49L406.05 330.35L406.8 329.94L407.55 329.3L408.3 328.49L409.05 327.63L409.8 326.87L410.55 326.35L411.3 326.25L412.05 326.64L412.8 327.52L413.55 328.81L414.3 330.35L415.05 332.01L415.8 333.66L416.55 335.22L417.3 336.64L418.05 337.92L418.8 339.04L419.55 340.03L420.3 340.88L421.05 341.63L421.8 342.28L422.55 342.85L423.3 343.34L424.05 343.78L424.8 344.16L425.55 344.5L426.3 344.8L427.05 345.07L427.8 345.31L428.55 345.53L429.3 345.73L430.05 345.9L430.8 346.06L431.55 346.21L432.3 346.34L433.05 346.46L433.8 346.57L434.55 346.67L435.3 346.76" stroke="#4a4a4a" stroke-width="0.68"/>
<path d="M405 215.9V347.8" stroke="#222" stroke-width="0.9" stroke-dasharray="1.2 1.6"/>
</g>
<path d="M398.8 213l1.9 3.6h-3.8zM411.2 216.2l1.9 3.6h-3.8zM399.31 217.4l1.9 3.6h-3.8zM410.69 220.32l1.9 3.6h-3.8zM399.83 221.8l1.9 3.6h-3.8zM410.17 224.44l1.9 3.6h-3.8zM400.35 226.2l1.9 3.6h-3.8zM409.65 228.57l1.9 3.6h-3.8zM400.87 230.6l1.9 3.6h-3.8zM409.13 232.69l1.9 3.6h-3.8zM401.39 235l1.9 3.6h-3.8zM408.61 236.81l1.9 3.6h-3.8zM401.92 239.4l1.9 3.6h-3.8zM408.08 240.93l1.9 3.6h-3.8zM402.46 243.8l1.9 3.6h-3.8zM407.54 245.05l1.9 3.6h-3.8zM403 248.2l1.9 3.6h-3.8zM407 249.17l1.9 3.6h-3.8zM403.55 252.6l1.9 3.6h-3.8zM406.45 253.3l1.9 3.6h-3.8zM404.1 257l1.9 3.6h-3.8zM405.9 257.42l1.9 3.6h-3.8zM405 261.4l1.9 3.6h-3.8zM405 265.8l1.9 3.6h-3.8zM405 270.2l1.9 3.6h-3.8zM405 274.6l1.9 3.6h-3.8zM405 279l1.9 3.6h-3.8zM405 283.4l1.9 3.6h-3.8zM405 287.8l1.9 3.6h-3.8zM405 292.2l1.9 3.6h-3.8zM405 296.6l1.9 3.6h-3.8zM403.9 301l1.9 3.6h-3.8zM406.1 301.65l1.9 3.6h-3.8zM402.8 305.4l1.9 3.6h-3.8zM407.2 306.7l1.9 3.6h-3.8zM401.7 309.8l1.9 3.6h-3.8zM408.3 311.75l1.9 3.6h-3.8zM400.6 314.2l1.9 3.6h-3.8zM409.4 316.8l1.9 3.6h-3.8zM399.5 318.6l1.9 3.6h-3.8zM410.5 321.85l1.9 3.6h-3.8zM398.4 323l1.9 3.6h-3.8zM411.6 326.9l1.9 3.6h-3.8z" fill="#f01822"/>
<rect x="373.8" y="213.9" width="61.2" height="133.9" fill="none" stroke="#222" stroke-width="0.9"/>
<path d="M382 347.8v-2.2M393.5 347.8v-2.2M405 347.8v-2.2M416.5 347.8v-2.2M428 347.8v-2.2" stroke="#222" stroke-width="0.8" fill="none"/>
<g font-size="6.9" fill="#111" text-anchor="middle" filter="url(#tx)">
<text x="381.2" y="356.3">-0.2</text>
<text x="405" y="356.3">0.0</text>
<text x="428" y="356.3">0.2</text>
<text x="378.7" y="366.6" font-size="7">M</text><text x="405" y="366.6" font-size="7">Γ</text><text x="432.3" y="366.6" font-size="7">M</text>
<text x="405" y="377.4" font-size="8.6" letter-spacing="0.3"><tspan font-style="italic">k</tspan><tspan font-size="4.8" dy="1.8" font-style="italic">∥</tspan><tspan dy="-1.8"> (Å</tspan><tspan font-size="4.8" dy="-3.2">-1</tspan><tspan dy="3.2">)</tspan></text>
</g>
<path d="M384 364H401M409 364H426" stroke="#666" stroke-width="0.6" fill="none"/>
<path d="M382.5 364l2.2 -1.3v2.6zM427.5 364l-2.2 -1.3v2.6z" fill="#111"/>
<g font-size="6.9" fill="#111" filter="url(#tx)"><text x="436.6" y="294.6">-0.19</text><text x="436.6" y="349.4">-0.38</text></g>
<text x="438.4" y="236.6" font-size="8.6" fill="#111" font-style="italic" filter="url(#tx)">E<tspan font-size="5" dy="1.8">F</tspan></text>
<text transform="translate(371.6,316.6) rotate(-90)" font-size="7.15" fill="#000">Intensity (arb. units)</text>
</g>
<g id="S3D">
<path d="M486.7 212.4L487 363M557.1 221.8L557 369M540.6 206.4L539 353" stroke="#8c8c8c" stroke-width="0.65" fill="none"/>
<g transform="matrix(0.52 -0.1 0.18 0.16 487 363)">
<clipPath id="cq12"><rect width="100" height="100"/></clipPath>
<g clip-path="url(#cq12)"><g filter="url(#jetn)">
<rect width="100" height="100" fill="rgb(11,11,11)"/>
<circle cx="50" cy="52" r="39.15" fill="#fff" opacity="0.16" filter="url(#b6)"/>
<circle cx="50" cy="52" r="27" fill="none" stroke="#fff" stroke-width="13.5" opacity="0.46" filter="url(#b4)"/>
<path d="M25.7 39.85A27 27 0 0 0 58.1 77.65" fill="none" stroke="#fff" stroke-width="10.8" opacity="0.6" stroke-linecap="round" filter="url(#b3)"/>
</g><rect width="100" height="100" fill="#1e1a3a" opacity="0.17"/></g>
<rect width="100" height="100" fill="none" stroke="#3a335c" stroke-width="0.9" opacity="0.7"/>
</g>
<g transform="matrix(0.52 -0.1 0.18 0.16 486.98 350.45)">
<clipPath id="cq11"><rect width="100" height="100"/></clipPath>
<g clip-path="url(#cq11)"><g filter="url(#jetn)">
<rect width="100" height="100" fill="rgb(11,11,11)"/>
<circle cx="50" cy="52" r="33.75" fill="#fff" opacity="0.22" filter="url(#b6)"/>
<ellipse cx="50" cy="52" rx="22.55" ry="22.55" fill="#fff" opacity="0.42" filter="url(#b4)"/>
<ellipse cx="43.85" cy="53" rx="11.28" ry="10.25" fill="#fff" opacity="0.55" filter="url(#b3)"/>
</g><rect width="100" height="100" fill="#1e1a3a" opacity="0.17"/></g>
<rect width="100" height="100" fill="none" stroke="#3a335c" stroke-width="0.9" opacity="0.7"/>
</g>
<g transform="matrix(0.52 -0.09 0.18 0.16 486.95 337.9)">
<clipPath id="cq10"><rect width="100" height="100"/></clipPath>
<g clip-path="url(#cq10)"><g filter="url(#jetn)">
<rect width="100" height="100" fill="rgb(11,11,11)"/>
<circle cx="50" cy="52" r="27" fill="#fff" opacity="0.22" filter="url(#b6)"/>
<ellipse cx="50" cy="52" rx="17.6" ry="17.6" fill="#fff" opacity="0.42" filter="url(#b4)"/>
<ellipse cx="45.2" cy="53" rx="8.8" ry="8" fill="#fff" opacity="0.55" filter="url(#b3)"/>
</g><rect width="100" height="100" fill="#1e1a3a" opacity="0.17"/></g>
<rect width="100" height="100" fill="none" stroke="#3a335c" stroke-width="0.9" opacity="0.7"/>
</g>
<g transform="matrix(0.52 -0.09 0.18 0.16 486.93 325.35)">
<clipPath id="cq9"><rect width="100" height="100"/></clipPath>
<g clip-path="url(#cq9)"><g filter="url(#jetn)">
<rect width="100" height="100" fill="rgb(11,11,11)"/>
<circle cx="50" cy="52" r="20.25" fill="#fff" opacity="0.22" filter="url(#b6)"/>
<ellipse cx="50" cy="52" rx="12.65" ry="12.65" fill="#fff" opacity="0.42" filter="url(#b4)"/>
<ellipse cx="46.55" cy="53" rx="6.33" ry="5.75" fill="#fff" opacity="0.55" filter="url(#b3)"/>
</g><rect width="100" height="100" fill="#1e1a3a" opacity="0.17"/></g>
<rect width="100" height="100" fill="none" stroke="#3a335c" stroke-width="0.9" opacity="0.7"/>
</g>
<g transform="matrix(0.53 -0.09 0.17 0.16 486.9 312.8)">
<clipPath id="cq8"><rect width="100" height="100"/></clipPath>
<g clip-path="url(#cq8)"><g filter="url(#jetn)">
<rect width="100" height="100" fill="rgb(11,11,11)"/>
<circle cx="50" cy="52" r="21.4" fill="#fff" opacity="0.2" filter="url(#b5)"/>
<ellipse cx="50" cy="52" rx="11.5" ry="11" fill="#fff" opacity="0.78" filter="url(#b3)"/>
</g><rect width="100" height="100" fill="#1e1a3a" opacity="0.17"/></g>
<rect width="100" height="100" fill="none" stroke="#3a335c" stroke-width="0.9" opacity="0.7"/>
</g>
<g transform="matrix(0.53 -0.08 0.17 0.16 486.88 300.25)">
<clipPath id="cq7"><rect width="100" height="100"/></clipPath>
<g clip-path="url(#cq7)"><g filter="url(#jetn)">
<rect width="100" height="100" fill="rgb(11,11,11)"/>
<circle cx="50" cy="52" r="12.6" fill="#fff" opacity="0.2" filter="url(#b5)"/>
<ellipse cx="50" cy="52" rx="7.5" ry="7" fill="#fff" opacity="0.78" filter="url(#b3)"/>
</g><rect width="100" height="100" fill="#1e1a3a" opacity="0.17"/></g>
<rect width="100" height="100" fill="none" stroke="#3a335c" stroke-width="0.9" opacity="0.7"/>
</g>
<g transform="matrix(0.53 -0.08 0.17 0.16 486.85 287.7)">
<clipPath id="cq6"><rect width="100" height="100"/></clipPath>
<g clip-path="url(#cq6)"><g filter="url(#jetn)">
<rect width="100" height="100" fill="rgb(11,11,11)"/>
<circle cx="50" cy="52" r="13.7" fill="#fff" opacity="0.2" filter="url(#b5)"/>
<ellipse cx="50" cy="52" rx="8" ry="7.5" fill="#fff" opacity="0.78" filter="url(#b3)"/>
</g><rect width="100" height="100" fill="#1e1a3a" opacity="0.17"/></g>
<rect width="100" height="100" fill="none" stroke="#3a335c" stroke-width="0.9" opacity="0.7"/>
</g>
<g transform="matrix(0.53 -0.08 0.17 0.16 486.82 275.15)">
<clipPath id="cq5"><rect width="100" height="100"/></clipPath>
<g clip-path="url(#cq5)"><g filter="url(#jetn)">
<rect width="100" height="100" fill="rgb(11,11,11)"/>
<circle cx="50" cy="52" r="14.25" fill="#fff" opacity="0.22" filter="url(#b6)"/>
<ellipse cx="50" cy="52" rx="8.25" ry="8.25" fill="#fff" opacity="0.42" filter="url(#b4)"/>
<ellipse cx="47.75" cy="53" rx="4.12" ry="3.75" fill="#fff" opacity="0.55" filter="url(#b3)"/>
</g><rect width="100" height="100" fill="#1e1a3a" opacity="0.17"/></g>
<rect width="100" height="100" fill="none" stroke="#3a335c" stroke-width="0.9" opacity="0.7"/>
</g>
<g transform="matrix(0.53 -0.07 0.17 0.16 486.8 262.6)">
<clipPath id="cq4"><rect width="100" height="100"/></clipPath>
<g clip-path="url(#cq4)"><g filter="url(#jetn)">
<rect width="100" height="100" fill="rgb(11,11,11)"/>
<circle cx="50" cy="52" r="20.25" fill="#fff" opacity="0.22" filter="url(#b6)"/>
<ellipse cx="50" cy="52" rx="12.65" ry="12.65" fill="#fff" opacity="0.42" filter="url(#b4)"/>
<ellipse cx="46.55" cy="53" rx="6.33" ry="5.75" fill="#fff" opacity="0.55" filter="url(#b3)"/>
</g><rect width="100" height="100" fill="#1e1a3a" opacity="0.17"/></g>
<rect width="100" height="100" fill="none" stroke="#3a335c" stroke-width="0.9" opacity="0.7"/>
</g>
<g transform="matrix(0.53 -0.07 0.17 0.16 486.77 250.05)">
<clipPath id="cq3"><rect width="100" height="100"/></clipPath>
<g clip-path="url(#cq3)"><g filter="url(#jetn)">
<rect width="100" height="100" fill="rgb(11,11,11)"/>
<circle cx="50" cy="52" r="23.2" fill="#fff" opacity="0.16" filter="url(#b6)"/>
<circle cx="50" cy="52" r="16" fill="none" stroke="#fff" stroke-width="8" opacity="0.46" filter="url(#b4)"/>
<path d="M35.6 44.8A16 16 0 0 0 54.8 67.2" fill="none" stroke="#fff" stroke-width="6.4" opacity="0.6" stroke-linecap="round" filter="url(#b3)"/>
</g><rect width="100" height="100" fill="#1e1a3a" opacity="0.17"/></g>
<rect width="100" height="100" fill="none" stroke="#3a335c" stroke-width="0.9" opacity="0.7"/>
</g>
<g transform="matrix(0.54 -0.07 0.17 0.15 486.75 237.5)">
<clipPath id="cq2"><rect width="100" height="100"/></clipPath>
<g clip-path="url(#cq2)"><g filter="url(#jetn)">
<rect width="100" height="100" fill="rgb(11,11,11)"/>
<circle cx="50" cy="52" r="29.72" fill="#fff" opacity="0.16" filter="url(#b6)"/>
<circle cx="50" cy="52" r="20.5" fill="none" stroke="#fff" stroke-width="10.25" opacity="0.46" filter="url(#b4)"/>
<path d="M31.55 42.77A20.5 20.5 0 0 0 56.15 71.47" fill="none" stroke="#fff" stroke-width="8.2" opacity="0.6" stroke-linecap="round" filter="url(#b3)"/>
</g><rect width="100" height="100" fill="#1e1a3a" opacity="0.17"/></g>
<rect width="100" height="100" fill="none" stroke="#3a335c" stroke-width="0.9" opacity="0.7"/>
</g>
<g transform="matrix(0.54 -0.06 0.17 0.15 486.72 224.95)">
<clipPath id="cq1"><rect width="100" height="100"/></clipPath>
<g clip-path="url(#cq1)"><g filter="url(#jetn)">
<rect width="100" height="100" fill="rgb(11,11,11)"/>
<circle cx="50" cy="52" r="36.25" fill="#fff" opacity="0.16" filter="url(#b6)"/>
<circle cx="50" cy="52" r="25" fill="none" stroke="#fff" stroke-width="12.5" opacity="0.46" filter="url(#b4)"/>
<path d="M27.5 40.75A25 25 0 0 0 57.5 75.75" fill="none" stroke="#fff" stroke-width="10" opacity="0.6" stroke-linecap="round" filter="url(#b3)"/>
</g><rect width="100" height="100" fill="#1e1a3a" opacity="0.17"/></g>
<rect width="100" height="100" fill="none" stroke="#3a335c" stroke-width="0.9" opacity="0.7"/>
</g>
<g transform="matrix(0.54 -0.06 0.17 0.15 486.7 212.4)">
<clipPath id="cq0"><rect width="100" height="100"/></clipPath>
<g clip-path="url(#cq0)"><g filter="url(#jetn)">
<rect width="100" height="100" fill="rgb(11,11,11)"/>
<circle cx="47" cy="52" r="38.47" fill="#fff" opacity="0.16" filter="url(#b6)"/>
<circle cx="47" cy="52" r="28.5" fill="none" stroke="#fff" stroke-width="13" opacity="0.36" filter="url(#b5)"/>
<path d="M25.63 33.19A28.5 28.5 0 0 0 41.3 79.93" fill="none" stroke="#fff" stroke-width="9" opacity="0.3" stroke-linecap="round" filter="url(#b4)"/>
<circle cx="27" cy="40" r="5" fill="#fff" opacity="0.4" filter="url(#b3)"/><circle cx="30" cy="56" r="4" fill="#fff" opacity="0.35" filter="url(#b3)"/>
</g><rect width="100" height="100" fill="#1e1a3a" opacity="0.17"/></g>
<rect width="100" height="100" fill="none" stroke="#3a335c" stroke-width="0.9" opacity="0.7"/>
</g>
<path d="M503.2 227.8L505 379" stroke="#2a2550" stroke-width="0.7" opacity="0.55" fill="none"/>
<path d="M486.7 212.4L487 363M557.1 221.8L557 369" stroke="#8c8c8c" stroke-width="0.65" fill="none"/>
<path d="M509.57 231.83L511.99 244.03L514.39 256.2L516.78 268.34L518.89 280.49L521 292.61L523.51 303.71L525.58 315.77L527.89 327.76L530.19 339.72L532.47 351.65L535.76 363.35M535.08 227.96L532.68 240.58L530.3 253.23L527.94 265.91L525.85 278.58L523.77 291.28L521.28 304.99L519.23 317.75L516.94 330.58L514.67 343.44L512.41 356.33L509.14 369.45" stroke="#e8202a" stroke-width="1.7" stroke-dasharray="0.1 3.3" fill="none" stroke-linecap="round"/>
<g font-size="7" fill="#111" filter="url(#tx)">
<text x="485.4" y="213" text-anchor="end" font-size="7.4">0.0</text><text x="485" y="287.6" text-anchor="end" font-size="7.4">-0.2</text><text x="485.6" y="361.6" text-anchor="end" font-size="7.4">-0.4</text>
<text x="486.3" y="368.6" text-anchor="end">0.15</text><text x="491.6" y="375">0</text><text x="488.5" y="381.8">0.15</text><text x="503.2" y="386.6">0.15</text><text x="530.6" y="382">0</text><text x="549" y="380">0.15</text>
<text transform="translate(485.4,211) rotate(-7)" font-size="6">M</text><text transform="translate(510.6,207.8) rotate(-7)" font-size="6">Γ</text><text transform="translate(533.4,205.6) rotate(-7)" font-size="6">M</text>
<text transform="translate(539.8,205) rotate(42)" font-size="6">K</text><text transform="translate(549.6,212.6) rotate(42)" font-size="6">Γ</text><text transform="translate(558.4,221) rotate(42)" font-size="6">K</text>
</g><g filter="url(#txu)"><g transform="translate(472.8,375.6) rotate(52) scale(0.02)" font-size="370" fill="#111"><text x="0" y="0" font-style="italic">k</text><text x="195" y="80" font-size="225" font-style="italic">y</text><text x="380" y="0">(Å</text><text x="750" y="-150" font-size="225">-1</text><text x="950" y="0">)</text></g></g><g font-size="7" fill="#111" filter="url(#tx)">
<text x="526.5" y="389.2" font-size="7.4"><tspan font-style="italic">k</tspan><tspan font-size="4.5" dy="1.5" font-style="italic">x</tspan><tspan dy="-1.5"> (Å</tspan><tspan font-size="4.5" dy="-3">-1</tspan><tspan dy="3">)</tspan></text>
<text x="565.6" y="268.6" text-anchor="middle" font-size="7.4">Max</text><text x="565.6" y="314" text-anchor="middle" font-size="7.4">Min</text>
</g>
<text transform="translate(469.4,302.6) rotate(-90)" font-size="7.15" fill="#000">Energy (eV)</text>
<path d="M494.4 208.1L508.6 206.5M516.6 205.6L530 204" stroke="#222" stroke-width="0.7" stroke-dasharray="1.6 1.2" fill="none"/>
<path d="M546.4 207.6L549.4 210.2M554 214.4L557 217.2" stroke="#222" stroke-width="0.7" stroke-dasharray="1.4 1" fill="none"/>
<path d="M491.6 208.4l2.4 -1.5l0.3 2.4zM532.4 203.6l-2.4 1.5l-0.3 -2.4zM545.6 206.6l2.6 0.6l-1.7 1.8zM557.8 218l-2.6 -0.6l1.7 -1.8z" fill="#111"/>
<linearGradient id="cbar" x1="0" y1="0" x2="0" y2="1">
<stop offset="0" stop-color="#d81818"/>
<stop offset="0.05" stop-color="#f03010"/>
<stop offset="0.12" stop-color="#ff9010"/>
<stop offset="0.2" stop-color="#ffe020"/>
<stop offset="0.27" stop-color="#c0e060"/>
<stop offset="0.33" stop-color="#60d0c0"/>
<stop offset="0.4" stop-color="#30a8e0"/>
<stop offset="0.5" stop-color="#2468cc"/>
<stop offset="0.6" stop-color="#283cac"/>
<stop offset="0.7" stop-color="#3a3496"/>
<stop offset="0.8" stop-color="#4a3f8c"/>
<stop offset="1" stop-color="#4e4288"/>
</linearGradient>
<rect x="561.2" y="270.4" width="9" height="36.4" fill="url(#cbar)"/>
</g>
</g>
</g>
</svg></body></html>
